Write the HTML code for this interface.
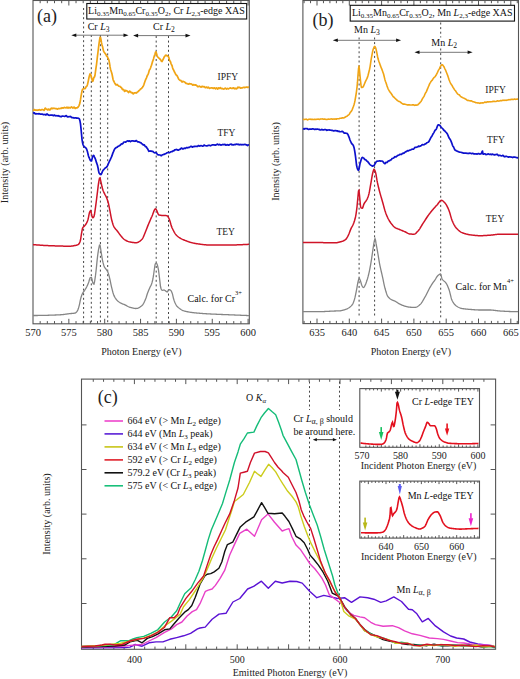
<!DOCTYPE html>
<html><head><meta charset="utf-8"><style>
html,body{margin:0;padding:0;background:#fff;overflow:hidden;}
svg{display:block;font-family:"Liberation Serif",serif;}
</style></head><body>
<svg width="520" height="679" viewBox="0 0 520 679">
<rect width="520" height="679" fill="#fff"/>
<rect x="33" y="0.5" width="216.3" height="323.3" fill="none" stroke="#555" stroke-width="1.1"/>
<path d="M68.85,0.5 V5.5 M68.85,323.8 V318.8 M104.70,0.5 V5.5 M104.70,323.8 V318.8 M140.55,0.5 V5.5 M140.55,323.8 V318.8 M176.40,0.5 V5.5 M176.40,323.8 V318.8 M212.25,0.5 V5.5 M212.25,323.8 V318.8 M248.10,0.5 V5.5 M248.10,323.8 V318.8 M40.17,0.5 V3.2 M40.17,323.8 V321.1 M47.34,0.5 V3.2 M47.34,323.8 V321.1 M54.51,0.5 V3.2 M54.51,323.8 V321.1 M61.68,0.5 V3.2 M61.68,323.8 V321.1 M76.02,0.5 V3.2 M76.02,323.8 V321.1 M83.19,0.5 V3.2 M83.19,323.8 V321.1 M90.36,0.5 V3.2 M90.36,323.8 V321.1 M97.53,0.5 V3.2 M97.53,323.8 V321.1 M111.87,0.5 V3.2 M111.87,323.8 V321.1 M119.04,0.5 V3.2 M119.04,323.8 V321.1 M126.21,0.5 V3.2 M126.21,323.8 V321.1 M133.38,0.5 V3.2 M133.38,323.8 V321.1 M147.72,0.5 V3.2 M147.72,323.8 V321.1 M154.89,0.5 V3.2 M154.89,323.8 V321.1 M162.06,0.5 V3.2 M162.06,323.8 V321.1 M169.23,0.5 V3.2 M169.23,323.8 V321.1 M183.57,0.5 V3.2 M183.57,323.8 V321.1 M190.74,0.5 V3.2 M190.74,323.8 V321.1 M197.91,0.5 V3.2 M197.91,323.8 V321.1 M205.08,0.5 V3.2 M205.08,323.8 V321.1 M219.42,0.5 V3.2 M219.42,323.8 V321.1 M226.59,0.5 V3.2 M226.59,323.8 V321.1 M233.76,0.5 V3.2 M233.76,323.8 V321.1 M240.93,0.5 V3.2 M240.93,323.8 V321.1" stroke="#555" stroke-width="1" fill="none"/>
<text x="33.0" y="336.2" font-size="10.5" text-anchor="middle" fill="#222" >570</text>
<text x="68.8" y="336.2" font-size="10.5" text-anchor="middle" fill="#222" >575</text>
<text x="104.7" y="336.2" font-size="10.5" text-anchor="middle" fill="#222" >580</text>
<text x="140.6" y="336.2" font-size="10.5" text-anchor="middle" fill="#222" >585</text>
<text x="176.4" y="336.2" font-size="10.5" text-anchor="middle" fill="#222" >590</text>
<text x="212.2" y="336.2" font-size="10.5" text-anchor="middle" fill="#222" >595</text>
<text x="248.1" y="336.2" font-size="10.5" text-anchor="middle" fill="#222" >600</text>
<text x="141.4" y="355.3" font-size="10" text-anchor="middle" fill="#222" >Photon Energy (eV)</text>
<text transform="translate(8.3,162.5) rotate(-90)" font-size="10" text-anchor="middle" fill="#222">Intensity (arb. units)</text>
<text x="37" y="21.9" font-size="18" fill="#222" >(a)</text>
<line x1="83.6" y1="8" x2="83.6" y2="323" stroke="#444" stroke-width="1" stroke-dasharray="2 2.6"/>
<line x1="91.3" y1="35" x2="91.3" y2="323" stroke="#444" stroke-width="1" stroke-dasharray="2 2.6"/>
<line x1="100.4" y1="35" x2="100.4" y2="323" stroke="#444" stroke-width="1" stroke-dasharray="2 2.6"/>
<line x1="107.7" y1="35" x2="107.7" y2="323" stroke="#444" stroke-width="1" stroke-dasharray="2 2.6"/>
<line x1="156.2" y1="36" x2="156.2" y2="323" stroke="#444" stroke-width="1" stroke-dasharray="2 2.6"/>
<line x1="168.5" y1="36" x2="168.5" y2="323" stroke="#444" stroke-width="1" stroke-dasharray="2 2.6"/>
<rect x="86.8" y="3.5" width="159.9" height="15.5" fill="#fff" stroke="#111" stroke-width="1.1"/>
<text x="88.1" y="13.9" font-size="10" fill="#111">Li<tspan font-size="7" dy="2">0.35</tspan><tspan dy="-2">Mn</tspan><tspan font-size="7" dy="2">0.65</tspan><tspan dy="-2">Cr</tspan><tspan font-size="7" dy="2">0.35</tspan><tspan dy="-2">O</tspan><tspan font-size="7" dy="2">2</tspan><tspan dy="-2">, Cr </tspan><tspan font-style="italic">L</tspan><tspan font-size="7" dy="2">2,3</tspan><tspan dy="-2">-edge XAS</tspan></text>
<text x="87.7" y="29.5" font-size="10" fill="#111">Cr <tspan font-style="italic">L</tspan><tspan font-size="7.6" dy="2.2">3</tspan></text>
<text x="153" y="29.5" font-size="10" fill="#111">Cr <tspan font-style="italic">L</tspan><tspan font-size="7.6" dy="2.2">2</tspan></text>
<line x1="75.3" y1="35.2" x2="124.5" y2="35.2" stroke="#777" stroke-width="1"/><path d="M71.3,35.2 L76.3,33.400000000000006 L76.3,37.0 Z" fill="#111"/><path d="M128.5,35.2 L123.5,33.400000000000006 L123.5,37.0 Z" fill="#111"/>
<line x1="137.1" y1="35.6" x2="186.5" y2="35.6" stroke="#777" stroke-width="1"/><path d="M133.1,35.6 L138.1,33.800000000000004 L138.1,37.4 Z" fill="#111"/><path d="M190.5,35.6 L185.5,33.800000000000004 L185.5,37.4 Z" fill="#111"/>
<path d="M33.00,110.02 L33.50,110.24 L34.00,109.83 L34.50,109.54 L35.00,110.07 L35.50,110.16 L36.00,109.91 L36.50,110.15 L37.00,110.30 L37.50,110.18 L38.00,110.17 L38.50,110.07 L39.00,109.76 L39.50,109.67 L40.00,109.89 L40.50,110.15 L41.00,110.06 L41.50,109.67 L42.00,109.47 L42.50,109.60 L43.00,109.72 L43.50,109.93 L44.00,110.42 L44.50,109.78 L45.00,108.24 L45.50,108.10 L46.00,108.88 L46.50,109.21 L47.00,109.36 L47.50,109.84 L48.00,109.90 L48.50,109.03 L49.00,109.12 L49.50,109.96 L50.00,109.85 L50.50,109.28 L51.00,108.51 L51.50,108.14 L52.00,108.63 L52.50,108.68 L53.00,108.19 L53.50,108.25 L54.00,108.42 L54.50,108.33 L55.00,108.53 L55.50,108.76 L56.00,108.64 L56.50,108.60 L57.00,109.00 L57.50,109.21 L58.00,108.77 L58.50,108.47 L59.00,108.59 L59.50,108.66 L60.00,108.54 L60.50,108.39 L61.00,108.57 L61.50,108.29 L62.00,107.71 L62.50,107.86 L63.00,108.20 L63.50,108.04 L64.00,107.46 L64.50,107.35 L65.00,107.67 L65.50,107.75 L66.00,107.95 L66.50,107.75 L67.00,107.19 L67.50,107.64 L68.00,108.09 L68.50,107.51 L69.00,107.27 L69.50,107.71 L70.00,107.96 L70.50,107.88 L71.00,107.28 L71.50,106.89 L72.00,107.24 L72.50,107.73 L73.00,108.14 L73.50,107.84 L74.00,107.10 L74.50,107.40 L75.00,108.36 L75.50,108.43 L76.00,107.87 L76.50,107.77 L77.00,107.83 L77.50,107.67 L78.00,107.30 L78.50,106.58 L79.00,105.55 L79.50,104.44 L80.00,102.58 L80.50,99.70 L81.00,96.29 L81.50,93.56 L82.00,90.94 L82.50,89.49 L83.00,89.02 L83.50,88.76 L84.00,88.52 L84.50,88.58 L85.00,88.69 L85.50,88.03 L86.00,86.91 L86.50,86.38 L87.00,86.11 L87.50,84.45 L88.00,82.35 L88.50,79.94 L89.00,77.40 L89.50,75.53 L90.00,73.95 L90.50,74.11 L91.00,75.58 L91.50,77.36 L92.00,79.63 L92.50,81.39 L93.00,81.07 L93.50,78.82 L94.00,77.24 L94.50,76.93 L95.00,75.24 L95.50,71.30 L96.00,67.83 L96.50,64.57 L97.00,60.25 L97.50,55.82 L98.00,52.00 L98.50,47.87 L99.00,43.87 L99.50,40.38 L100.00,37.43 L100.50,37.33 L101.00,39.66 L101.50,42.69 L102.00,44.93 L102.50,46.54 L103.00,48.59 L103.50,50.85 L104.00,51.89 L104.50,52.58 L105.00,53.39 L105.50,53.90 L106.00,54.73 L106.50,55.79 L107.00,56.31 L107.50,56.91 L108.00,58.13 L108.50,59.08 L109.00,60.57 L109.50,63.17 L110.00,66.49 L110.50,69.19 L111.00,70.79 L111.50,72.28 L112.00,73.99 L112.50,76.53 L113.00,79.24 L113.50,80.73 L114.00,81.55 L114.50,82.62 L115.00,83.54 L115.50,84.35 L116.00,84.92 L116.50,84.66 L117.00,84.45 L117.50,84.89 L118.00,85.43 L118.50,85.85 L119.00,86.23 L119.50,86.25 L120.00,86.40 L120.50,87.15 L121.00,87.34 L121.50,87.56 L122.00,88.72 L122.50,89.58 L123.00,89.66 L123.50,89.45 L124.00,90.07 L124.50,91.39 L125.00,91.26 L125.50,90.38 L126.00,90.57 L126.50,90.90 L127.00,90.92 L127.50,91.31 L128.00,91.89 L128.50,92.52 L129.00,92.08 L129.50,91.13 L130.00,91.26 L130.50,91.80 L131.00,92.50 L131.50,92.87 L132.00,92.60 L132.50,92.73 L133.00,93.77 L133.50,93.91 L134.00,93.03 L134.50,92.84 L135.00,92.88 L135.50,92.68 L136.00,92.86 L136.50,93.12 L137.00,92.44 L137.50,91.94 L138.00,91.78 L138.50,91.14 L139.00,90.60 L139.50,90.25 L140.00,89.74 L140.50,89.11 L141.00,88.76 L141.50,88.45 L142.00,87.93 L142.50,87.30 L143.00,86.56 L143.50,85.63 L144.00,84.25 L144.50,82.75 L145.00,81.34 L145.50,79.93 L146.00,78.83 L146.50,77.85 L147.00,76.36 L147.50,75.15 L148.00,74.45 L148.50,73.26 L149.00,71.34 L149.50,69.76 L150.00,69.18 L150.50,68.00 L151.00,66.41 L151.50,65.28 L152.00,63.53 L152.50,61.68 L153.00,60.38 L153.50,58.91 L154.00,56.98 L154.50,55.45 L155.00,54.29 L155.50,52.28 L156.00,51.87 L156.50,53.51 L157.00,55.24 L157.50,56.53 L158.00,57.20 L158.50,57.77 L159.00,58.19 L159.50,58.57 L160.00,59.23 L160.50,59.69 L161.00,60.31 L161.50,61.32 L162.00,61.60 L162.50,60.69 L163.00,59.67 L163.50,58.69 L164.00,57.37 L164.50,56.57 L165.00,56.04 L165.50,55.27 L166.00,55.15 L166.50,55.62 L167.00,55.85 L167.50,55.71 L168.00,56.13 L168.50,56.83 L169.00,58.10 L169.50,60.26 L170.00,61.01 L170.50,61.75 L171.00,63.58 L171.50,64.55 L172.00,65.50 L172.50,67.47 L173.00,69.05 L173.50,69.80 L174.00,70.92 L174.50,72.05 L175.00,72.88 L175.50,74.01 L176.00,74.85 L176.50,75.07 L177.00,75.56 L177.50,76.49 L178.00,77.56 L178.50,78.71 L179.00,79.49 L179.50,79.97 L180.00,80.28 L180.50,80.32 L181.00,80.53 L181.50,81.46 L182.00,82.06 L182.50,81.59 L183.00,81.34 L183.50,81.61 L184.00,81.72 L184.50,81.94 L185.00,82.35 L185.50,82.90 L186.00,83.43 L186.50,83.44 L187.00,83.58 L187.50,83.82 L188.00,83.96 L188.50,84.16 L189.00,83.78 L189.50,83.51 L190.00,83.87 L190.50,83.95 L191.00,83.89 L191.50,83.99 L192.00,84.37 L192.50,85.14 L193.00,85.17 L193.50,84.68 L194.00,84.68 L194.50,84.99 L195.00,85.10 L195.50,84.92 L196.00,85.05 L196.50,85.42 L197.00,85.85 L197.50,86.54 L198.00,86.80 L198.50,86.56 L199.00,86.22 L199.50,86.07 L200.00,86.47 L200.50,86.81 L201.00,87.21 L201.50,87.06 L202.00,86.27 L202.50,86.32 L203.00,86.72 L203.50,86.83 L204.00,86.62 L204.50,86.79 L205.00,87.41 L205.50,87.69 L206.00,87.43 L206.50,87.05 L207.00,87.33 L207.50,87.86 L208.00,87.48 L208.50,87.15 L209.00,87.82 L209.50,88.31 L210.00,88.19 L210.50,88.05 L211.00,87.91 L211.50,87.73 L212.00,87.83 L212.50,88.00 L213.00,88.37 L213.50,88.41 L214.00,87.91 L214.50,87.88 L215.00,88.33 L215.50,88.76 L216.00,88.42 L216.50,87.88 L217.00,88.26 L217.50,89.06 L218.00,88.92 L218.50,87.86 L219.00,87.96 L219.50,88.44 L220.00,87.75 L220.50,87.63 L221.00,88.51 L221.50,88.75 L222.00,88.41 L222.50,88.49 L223.00,88.88 L223.50,89.08 L224.00,88.96 L224.50,88.66 L225.00,88.23 L225.50,88.16 L226.00,88.63 L226.50,89.06 L227.00,88.81 L227.50,88.43 L228.00,88.78 L228.50,88.94 L229.00,88.56 L229.50,88.33 L230.00,88.00 L230.50,87.78 L231.00,88.26 L231.50,88.44 L232.00,88.31 L232.50,88.30 L233.00,87.90 L233.50,87.79 L234.00,88.50 L234.50,88.77 L235.00,88.20 L235.50,88.40 L236.00,88.87 L236.50,88.84 L237.00,88.56 L237.50,87.48 L238.00,87.08 L238.50,87.64 L239.00,87.58 L239.50,87.30 L240.00,87.54 L240.50,88.21 L241.00,88.21 L241.50,87.78 L242.00,87.90 L242.50,87.80 L243.00,87.49 L243.50,87.40 L244.00,87.43 L244.50,87.59 L245.00,87.42 L245.50,87.29 L246.00,87.30 L246.50,87.02 L247.00,87.01 L247.50,87.40 L248.00,87.37 L248.50,87.15 L249.00,87.23" stroke="#f0a414" stroke-width="1.7" fill="none" stroke-linejoin="round"/>
<path d="M33.00,113.18 L33.50,113.10 L34.00,112.85 L34.50,112.94 L35.00,113.73 L35.50,113.97 L36.00,113.71 L36.50,113.80 L37.00,113.77 L37.50,113.74 L38.00,113.92 L38.50,113.84 L39.00,113.67 L39.50,113.76 L40.00,114.00 L40.50,114.15 L41.00,114.15 L41.50,114.09 L42.00,114.05 L42.50,114.16 L43.00,114.43 L43.50,114.55 L44.00,114.57 L44.50,114.48 L45.00,114.41 L45.50,114.88 L46.00,115.01 L46.50,114.29 L47.00,113.88 L47.50,114.27 L48.00,114.84 L48.50,115.12 L49.00,115.28 L49.50,115.29 L50.00,115.18 L50.50,115.13 L51.00,115.20 L51.50,115.21 L52.00,114.98 L52.50,115.04 L53.00,115.54 L53.50,115.74 L54.00,115.31 L54.50,115.03 L55.00,115.36 L55.50,115.71 L56.00,115.84 L56.50,115.73 L57.00,115.55 L57.50,115.94 L58.00,116.04 L58.50,115.66 L59.00,115.92 L59.50,116.29 L60.00,116.30 L60.50,116.60 L61.00,116.84 L61.50,116.45 L62.00,116.02 L62.50,116.04 L63.00,116.26 L63.50,116.26 L64.00,116.20 L64.50,116.35 L65.00,116.37 L65.50,116.01 L66.00,115.60 L66.50,115.81 L67.00,116.50 L67.50,116.89 L68.00,116.97 L68.50,116.72 L69.00,116.56 L69.50,116.76 L70.00,116.68 L70.50,116.45 L71.00,116.85 L71.50,117.53 L72.00,117.68 L72.50,117.60 L73.00,117.55 L73.50,117.71 L74.00,118.06 L74.50,118.02 L75.00,117.87 L75.50,117.86 L76.00,117.86 L76.50,118.13 L77.00,118.23 L77.50,118.12 L78.00,118.17 L78.50,118.23 L79.00,118.58 L79.50,119.28 L80.00,121.02 L80.50,123.93 L81.00,128.55 L81.50,133.84 L82.00,139.36 L82.50,142.49 L83.00,144.43 L83.50,145.79 L84.00,146.52 L84.50,146.88 L85.00,147.28 L85.50,147.74 L86.00,148.00 L86.50,148.90 L87.00,150.28 L87.50,151.82 L88.00,153.95 L88.50,156.06 L89.00,157.42 L89.50,158.45 L90.00,159.73 L90.50,160.49 L91.00,160.91 L91.50,160.96 L92.00,159.12 L92.50,157.01 L93.00,155.75 L93.50,155.28 L94.00,155.86 L94.50,157.08 L95.00,158.21 L95.50,159.32 L96.00,160.98 L96.50,162.63 L97.00,163.96 L97.50,165.53 L98.00,167.71 L98.50,170.56 L99.00,172.82 L99.50,173.64 L100.00,174.05 L100.50,174.51 L101.00,174.58 L101.50,173.80 L102.00,172.58 L102.50,171.28 L103.00,170.30 L103.50,169.78 L104.00,169.31 L104.50,168.71 L105.00,168.17 L105.50,167.86 L106.00,167.61 L106.50,167.28 L107.00,166.64 L107.50,165.63 L108.00,164.46 L108.50,163.40 L109.00,162.25 L109.50,161.13 L110.00,160.16 L110.50,159.05 L111.00,157.99 L111.50,156.93 L112.00,155.65 L112.50,154.13 L113.00,152.68 L113.50,151.56 L114.00,150.37 L114.50,149.24 L115.00,148.67 L115.50,148.10 L116.00,147.69 L116.50,147.61 L117.00,147.36 L117.50,146.81 L118.00,146.35 L118.50,146.23 L119.00,145.93 L119.50,145.54 L120.00,145.47 L120.50,144.94 L121.00,144.18 L121.50,143.89 L122.00,143.77 L122.50,143.80 L123.00,143.39 L123.50,142.51 L124.00,142.08 L124.50,141.99 L125.00,141.99 L125.50,142.12 L126.00,141.88 L126.50,141.52 L127.00,141.17 L127.50,140.83 L128.00,141.09 L128.50,141.35 L129.00,141.07 L129.50,140.95 L130.00,141.36 L130.50,141.63 L131.00,141.19 L131.50,140.95 L132.00,141.00 L132.50,140.78 L133.00,140.82 L133.50,141.03 L134.00,141.05 L134.50,141.08 L135.00,141.31 L135.50,141.13 L136.00,140.55 L136.50,140.53 L137.00,141.21 L137.50,141.79 L138.00,141.80 L138.50,141.74 L139.00,141.95 L139.50,142.32 L140.00,142.58 L140.50,142.61 L141.00,142.84 L141.50,143.54 L142.00,143.83 L142.50,143.97 L143.00,144.72 L143.50,145.05 L144.00,144.82 L144.50,145.09 L145.00,146.00 L145.50,146.63 L146.00,146.71 L146.50,147.20 L147.00,148.15 L147.50,148.68 L148.00,149.47 L148.50,150.75 L149.00,151.31 L149.50,151.14 L150.00,151.09 L150.50,151.05 L151.00,150.96 L151.50,151.26 L152.00,151.43 L152.50,151.29 L153.00,151.55 L153.50,152.13 L154.00,152.45 L154.50,152.66 L155.00,152.82 L155.50,152.68 L156.00,152.61 L156.50,152.95 L157.00,153.74 L157.50,154.44 L158.00,154.79 L158.50,154.94 L159.00,154.91 L159.50,154.98 L160.00,154.99 L160.50,155.21 L161.00,155.75 L161.50,155.61 L162.00,154.98 L162.50,154.74 L163.00,154.61 L163.50,154.44 L164.00,154.37 L164.50,154.14 L165.00,153.92 L165.50,153.77 L166.00,153.51 L166.50,153.11 L167.00,152.77 L167.50,152.67 L168.00,152.60 L168.50,152.52 L169.00,152.59 L169.50,152.69 L170.00,152.36 L170.50,151.95 L171.00,151.72 L171.50,151.59 L172.00,151.68 L172.50,151.33 L173.00,150.86 L173.50,151.01 L174.00,150.72 L174.50,149.95 L175.00,149.90 L175.50,149.90 L176.00,149.55 L176.50,149.46 L177.00,149.65 L177.50,149.88 L178.00,150.17 L178.50,150.21 L179.00,149.81 L179.50,149.55 L180.00,149.37 L180.50,148.97 L181.00,148.42 L181.50,148.07 L182.00,148.32 L182.50,148.83 L183.00,148.99 L183.50,148.72 L184.00,148.30 L184.50,148.14 L185.00,148.45 L185.50,148.37 L186.00,147.85 L186.50,147.52 L187.00,147.57 L187.50,147.85 L188.00,147.74 L188.50,147.47 L189.00,147.45 L189.50,147.34 L190.00,146.95 L190.50,146.56 L191.00,146.32 L191.50,146.40 L192.00,147.05 L192.50,147.20 L193.00,146.61 L193.50,146.55 L194.00,146.61 L194.50,146.39 L195.00,146.29 L195.50,146.35 L196.00,146.48 L196.50,146.35 L197.00,146.32 L197.50,146.36 L198.00,145.93 L198.50,145.55 L199.00,145.81 L199.50,146.13 L200.00,146.07 L200.50,145.83 L201.00,145.64 L201.50,145.81 L202.00,145.98 L202.50,146.06 L203.00,146.14 L203.50,145.69 L204.00,145.11 L204.50,145.16 L205.00,145.59 L205.50,145.73 L206.00,145.74 L206.50,145.85 L207.00,145.99 L207.50,145.81 L208.00,145.40 L208.50,145.43 L209.00,145.40 L209.50,145.23 L210.00,145.56 L210.50,145.78 L211.00,145.53 L211.50,145.24 L212.00,145.02 L212.50,144.85 L213.00,144.87 L213.50,144.91 L214.00,144.91 L214.50,144.92 L215.00,145.13 L215.50,145.12 L216.00,144.87 L216.50,144.73 L217.00,144.24 L217.50,144.07 L218.00,144.56 L218.50,144.88 L219.00,144.73 L219.50,144.44 L220.00,144.58 L220.50,144.95 L221.00,145.07 L221.50,144.94 L222.00,144.72 L222.50,144.51 L223.00,144.47 L223.50,144.64 L224.00,144.67 L224.50,144.40 L225.00,144.39 L225.50,144.91 L226.00,145.20 L226.50,144.98 L227.00,144.70 L227.50,144.70 L228.00,144.90 L228.50,145.09 L229.00,145.14 L229.50,144.78 L230.00,144.33 L230.50,144.22 L231.00,144.13 L231.50,144.32 L232.00,144.86 L232.50,144.81 L233.00,144.62 L233.50,144.93 L234.00,144.78 L234.50,144.46 L235.00,144.59 L235.50,144.56 L236.00,144.19 L236.50,144.06 L237.00,144.45 L237.50,144.41 L238.00,144.12 L238.50,144.57 L239.00,144.85 L239.50,144.66 L240.00,144.64 L240.50,144.55 L241.00,144.43 L241.50,144.71 L242.00,144.86 L242.50,144.60 L243.00,144.68 L243.50,144.78 L244.00,144.60 L244.50,144.45 L245.00,144.33 L245.50,144.47 L246.00,144.81 L246.50,144.87 L247.00,145.11 L247.50,145.51 L248.00,145.21 L248.50,144.91 L249.00,144.96" stroke="#0c10cc" stroke-width="1.7" fill="none" stroke-linejoin="round"/>
<path d="M33.00,244.60 L33.50,244.64 L34.00,244.68 L34.50,244.72 L35.00,244.76 L35.50,244.80 L36.00,244.84 L36.50,244.88 L37.00,244.92 L37.50,244.96 L38.00,245.00 L38.50,245.04 L39.00,245.07 L39.50,245.11 L40.00,245.14 L40.50,245.18 L41.00,245.21 L41.50,245.25 L42.00,245.28 L42.50,245.31 L43.00,245.35 L43.50,245.38 L44.00,245.41 L44.50,245.44 L45.00,245.47 L45.50,245.49 L46.00,245.52 L46.50,245.55 L47.00,245.57 L47.50,245.60 L48.00,245.62 L48.50,245.64 L49.00,245.66 L49.50,245.68 L50.00,245.70 L50.50,245.72 L51.00,245.74 L51.50,245.75 L52.00,245.77 L52.50,245.79 L53.00,245.81 L53.50,245.83 L54.00,245.85 L54.50,245.86 L55.00,245.88 L55.50,245.90 L56.00,245.92 L56.50,245.93 L57.00,245.95 L57.50,245.97 L58.00,245.98 L58.50,246.00 L59.00,246.01 L59.50,246.03 L60.00,246.04 L60.50,246.06 L61.00,246.07 L61.50,246.08 L62.00,246.09 L62.50,246.11 L63.00,246.12 L63.50,246.13 L64.00,246.14 L64.50,246.15 L65.00,246.16 L65.50,246.16 L66.00,246.17 L66.50,246.18 L67.00,246.18 L67.50,246.19 L68.00,246.19 L68.50,246.20 L69.00,246.20 L69.50,246.20 L70.00,246.20 L70.50,246.19 L71.00,246.16 L71.50,246.11 L72.00,246.05 L72.50,245.98 L73.00,245.89 L73.50,245.80 L74.00,245.70 L74.50,245.60 L75.00,245.50 L75.50,245.40 L76.00,245.29 L76.50,245.16 L77.00,245.01 L77.50,244.82 L78.00,244.59 L78.50,244.30 L79.00,243.78 L79.50,242.88 L80.00,241.66 L80.50,240.00 L81.00,236.92 L81.50,233.70 L82.00,230.79 L82.50,228.34 L83.00,227.33 L83.50,226.80 L84.00,226.39 L84.50,225.88 L85.00,225.32 L85.50,224.71 L86.00,224.02 L86.50,223.17 L87.00,222.15 L87.50,220.93 L88.00,219.50 L88.50,217.35 L89.00,214.65 L89.50,212.43 L90.00,211.33 L90.50,210.72 L91.00,211.62 L91.50,214.00 L92.00,215.94 L92.50,217.59 L93.00,217.70 L93.50,217.20 L94.00,216.39 L94.50,214.25 L95.00,210.92 L95.50,207.29 L96.00,203.72 L96.50,199.75 L97.00,195.63 L97.50,191.60 L98.00,187.37 L98.50,183.60 L99.00,180.62 L99.50,178.21 L100.00,177.94 L100.50,179.93 L101.00,182.21 L101.50,184.46 L102.00,186.79 L102.50,188.84 L103.00,190.34 L103.50,191.53 L104.00,192.58 L104.50,193.60 L105.00,194.58 L105.50,195.49 L106.00,196.45 L106.50,197.56 L107.00,198.80 L107.50,200.20 L108.00,201.80 L108.50,203.77 L109.00,206.11 L109.50,208.61 L110.00,211.12 L110.50,213.89 L111.00,216.67 L111.50,219.09 L112.00,221.03 L112.50,222.81 L113.00,224.40 L113.50,225.74 L114.00,226.79 L114.50,227.63 L115.00,228.34 L115.50,228.97 L116.00,229.55 L116.50,230.10 L117.00,230.68 L117.50,231.30 L118.00,231.98 L118.50,232.67 L119.00,233.37 L119.50,234.07 L120.00,234.74 L120.50,235.39 L121.00,236.00 L121.50,236.59 L122.00,237.18 L122.50,237.76 L123.00,238.30 L123.50,238.80 L124.00,239.24 L124.50,239.60 L125.00,239.91 L125.50,240.20 L126.00,240.48 L126.50,240.75 L127.00,240.99 L127.50,241.22 L128.00,241.42 L128.50,241.60 L129.00,241.76 L129.50,241.89 L130.00,242.00 L130.50,242.09 L131.00,242.18 L131.50,242.27 L132.00,242.35 L132.50,242.42 L133.00,242.49 L133.50,242.55 L134.00,242.60 L134.50,242.64 L135.00,242.67 L135.50,242.69 L136.00,242.70 L136.50,242.67 L137.00,242.58 L137.50,242.44 L138.00,242.24 L138.50,242.00 L139.00,241.72 L139.50,241.39 L140.00,241.03 L140.50,240.64 L141.00,240.21 L141.50,239.77 L142.00,239.30 L142.50,238.66 L143.00,237.75 L143.50,236.65 L144.00,235.44 L144.50,234.20 L145.00,233.00 L145.50,231.81 L146.00,230.55 L146.50,229.25 L147.00,227.93 L147.50,226.64 L148.00,225.40 L148.50,224.20 L149.00,223.02 L149.50,221.85 L150.00,220.69 L150.50,219.55 L151.00,218.42 L151.50,217.31 L152.00,216.20 L152.50,214.98 L153.00,213.61 L153.50,212.21 L154.00,210.90 L154.50,209.82 L155.00,209.08 L155.50,208.80 L156.00,209.13 L156.50,209.98 L157.00,211.15 L157.50,212.44 L158.00,213.65 L158.50,214.57 L159.00,215.00 L159.50,215.11 L160.00,215.20 L160.50,215.27 L161.00,215.33 L161.50,215.38 L162.00,215.43 L162.50,215.46 L163.00,215.50 L163.50,215.53 L164.00,215.55 L164.50,215.57 L165.00,215.58 L165.50,215.60 L166.00,215.62 L166.50,215.65 L167.00,215.70 L167.50,215.99 L168.00,216.66 L168.50,217.55 L169.00,218.50 L169.50,219.68 L170.00,221.24 L170.50,222.99 L171.00,224.76 L171.50,226.39 L172.00,227.70 L172.50,228.77 L173.00,229.79 L173.50,230.77 L174.00,231.70 L174.50,232.56 L175.00,233.36 L175.50,234.09 L176.00,234.74 L176.50,235.31 L177.00,235.80 L177.50,236.23 L178.00,236.63 L178.50,237.01 L179.00,237.36 L179.50,237.69 L180.00,238.01 L180.50,238.30 L181.00,238.58 L181.50,238.85 L182.00,239.10 L182.50,239.33 L183.00,239.56 L183.50,239.78 L184.00,239.99 L184.50,240.20 L185.00,240.40 L185.50,240.60 L186.00,240.79 L186.50,240.98 L187.00,241.17 L187.50,241.35 L188.00,241.53 L188.50,241.71 L189.00,241.87 L189.50,242.04 L190.00,242.20 L190.50,242.35 L191.00,242.49 L191.50,242.63 L192.00,242.76 L192.50,242.89 L193.00,243.01 L193.50,243.12 L194.00,243.22 L194.50,243.31 L195.00,243.40 L195.50,243.48 L196.00,243.56 L196.50,243.64 L197.00,243.72 L197.50,243.80 L198.00,243.88 L198.50,243.96 L199.00,244.03 L199.50,244.10 L200.00,244.18 L200.50,244.25 L201.00,244.31 L201.50,244.38 L202.00,244.44 L202.50,244.50 L203.00,244.56 L203.50,244.62 L204.00,244.67 L204.50,244.72 L205.00,244.77 L205.50,244.81 L206.00,244.85 L206.50,244.88 L207.00,244.91 L207.50,244.94 L208.00,244.96 L208.50,244.98 L209.00,244.99 L209.50,245.00 L210.00,245.00 L210.50,245.00 L211.00,245.00 L211.50,245.00 L212.00,245.00 L212.50,245.00 L213.00,245.00 L213.50,245.00 L214.00,245.00 L214.50,245.00 L215.00,245.00 L215.50,245.00 L216.00,245.00 L216.50,245.00 L217.00,245.00 L217.50,245.00 L218.00,245.00 L218.50,245.00 L219.00,245.00 L219.50,245.00 L220.00,245.00 L220.50,245.00 L221.00,245.00 L221.50,245.00 L222.00,245.00 L222.50,245.00 L223.00,245.00 L223.50,245.00 L224.00,245.00 L224.50,245.00 L225.00,245.00 L225.50,245.00 L226.00,245.00 L226.50,245.00 L227.00,245.00 L227.50,245.00 L228.00,245.00 L228.50,245.00 L229.00,245.00 L229.50,245.00 L230.00,245.00 L230.50,245.00 L231.00,245.00 L231.50,244.99 L232.00,244.99 L232.50,244.98 L233.00,244.98 L233.50,244.97 L234.00,244.96 L234.50,244.95 L235.00,244.93 L235.50,244.92 L236.00,244.91 L236.50,244.89 L237.00,244.87 L237.50,244.86 L238.00,244.84 L238.50,244.82 L239.00,244.80 L239.50,244.78 L240.00,244.76 L240.50,244.74 L241.00,244.71 L241.50,244.69 L242.00,244.67 L242.50,244.64 L243.00,244.62 L243.50,244.59 L244.00,244.57 L244.50,244.54 L245.00,244.52 L245.50,244.49 L246.00,244.46 L246.50,244.44 L247.00,244.41 L247.50,244.38 L248.00,244.35 L248.50,244.33 L249.00,244.30" stroke="#cf1428" stroke-width="1.5" fill="none"/>
<path d="M33.00,315.50 L33.50,315.50 L34.00,315.50 L34.50,315.50 L35.00,315.50 L35.50,315.49 L36.00,315.49 L36.50,315.49 L37.00,315.48 L37.50,315.48 L38.00,315.47 L38.50,315.47 L39.00,315.46 L39.50,315.45 L40.00,315.45 L40.50,315.44 L41.00,315.43 L41.50,315.42 L42.00,315.41 L42.50,315.40 L43.00,315.39 L43.50,315.38 L44.00,315.37 L44.50,315.36 L45.00,315.35 L45.50,315.34 L46.00,315.32 L46.50,315.31 L47.00,315.30 L47.50,315.28 L48.00,315.27 L48.50,315.25 L49.00,315.24 L49.50,315.22 L50.00,315.20 L50.50,315.19 L51.00,315.17 L51.50,315.15 L52.00,315.14 L52.50,315.12 L53.00,315.10 L53.50,315.08 L54.00,315.06 L54.50,315.04 L55.00,315.02 L55.50,315.00 L56.00,314.98 L56.50,314.96 L57.00,314.94 L57.50,314.91 L58.00,314.89 L58.50,314.87 L59.00,314.85 L59.50,314.82 L60.00,314.80 L60.50,314.77 L61.00,314.74 L61.50,314.70 L62.00,314.65 L62.50,314.60 L63.00,314.54 L63.50,314.48 L64.00,314.41 L64.50,314.35 L65.00,314.28 L65.50,314.20 L66.00,314.13 L66.50,314.06 L67.00,313.99 L67.50,313.92 L68.00,313.85 L68.50,313.78 L69.00,313.72 L69.50,313.66 L70.00,313.60 L70.50,313.55 L71.00,313.51 L71.50,313.48 L72.00,313.44 L72.50,313.41 L73.00,313.37 L73.50,313.32 L74.00,313.26 L74.50,313.19 L75.00,313.10 L75.50,312.90 L76.00,312.52 L76.50,312.00 L77.00,311.37 L77.50,310.64 L78.00,309.54 L78.50,308.04 L79.00,306.35 L79.50,304.35 L80.00,301.86 L80.50,299.40 L81.00,297.47 L81.50,295.94 L82.00,294.61 L82.50,293.48 L83.00,292.60 L83.50,291.90 L84.00,291.26 L84.50,290.55 L85.00,289.76 L85.50,288.95 L86.00,288.09 L86.50,287.18 L87.00,286.20 L87.50,285.13 L88.00,283.97 L88.50,282.75 L89.00,281.24 L89.50,279.39 L90.00,277.99 L90.50,277.70 L91.00,277.70 L91.50,277.70 L92.00,279.25 L92.50,281.85 L93.00,283.12 L93.50,283.95 L94.00,284.13 L94.50,282.07 L95.00,278.90 L95.50,275.41 L96.00,271.24 L96.50,266.64 L97.00,261.43 L97.50,256.89 L98.00,253.08 L98.50,249.92 L99.00,247.29 L99.50,245.15 L100.00,245.05 L100.50,247.92 L101.00,251.17 L101.50,254.28 L102.00,257.47 L102.50,260.28 L103.00,262.44 L103.50,264.33 L104.00,265.92 L104.50,267.10 L105.00,267.90 L105.50,268.50 L106.00,269.09 L106.50,269.80 L107.00,270.54 L107.50,271.38 L108.00,272.40 L108.50,273.82 L109.00,275.65 L109.50,277.67 L110.00,279.74 L110.50,282.08 L111.00,284.51 L111.50,286.79 L112.00,288.83 L112.50,290.86 L113.00,292.74 L113.50,294.37 L114.00,295.62 L114.50,296.64 L115.00,297.53 L115.50,298.33 L116.00,299.03 L116.50,299.65 L117.00,300.21 L117.50,300.71 L118.00,301.17 L118.50,301.59 L119.00,301.97 L119.50,302.31 L120.00,302.62 L120.50,302.90 L121.00,303.16 L121.50,303.39 L122.00,303.62 L122.50,303.83 L123.00,304.04 L123.50,304.25 L124.00,304.46 L124.50,304.67 L125.00,304.90 L125.50,305.14 L126.00,305.41 L126.50,305.67 L127.00,305.95 L127.50,306.22 L128.00,306.48 L128.50,306.72 L129.00,306.94 L129.50,307.14 L130.00,307.30 L130.50,307.44 L131.00,307.59 L131.50,307.73 L132.00,307.87 L132.50,307.99 L133.00,308.11 L133.50,308.22 L134.00,308.32 L134.50,308.39 L135.00,308.45 L135.50,308.49 L136.00,308.50 L136.50,308.47 L137.00,308.39 L137.50,308.26 L138.00,308.09 L138.50,307.87 L139.00,307.61 L139.50,307.32 L140.00,307.00 L140.50,306.66 L141.00,306.29 L141.50,305.90 L142.00,305.50 L142.50,305.00 L143.00,304.33 L143.50,303.51 L144.00,302.58 L144.50,301.57 L145.00,300.49 L145.50,299.37 L146.00,298.01 L146.50,296.43 L147.00,294.79 L147.50,293.25 L148.00,291.93 L148.50,290.70 L149.00,289.53 L149.50,288.40 L150.00,287.30 L150.50,286.31 L151.00,285.36 L151.50,284.20 L152.00,282.67 L152.50,280.77 L153.00,278.50 L153.50,275.48 L154.00,271.75 L154.50,268.28 L155.00,264.79 L155.50,263.47 L156.00,263.34 L156.50,263.30 L157.00,263.94 L157.50,265.53 L158.00,267.58 L158.50,270.21 L159.00,274.00 L159.50,278.04 L160.00,282.27 L160.50,286.52 L161.00,288.52 L161.50,289.62 L162.00,290.28 L162.50,290.38 L163.00,290.22 L163.50,290.04 L164.00,290.02 L164.50,290.23 L165.00,290.55 L165.50,290.86 L166.00,291.24 L166.50,291.65 L167.00,291.94 L167.50,291.88 L168.00,290.92 L168.50,289.85 L169.00,289.61 L169.50,289.72 L170.00,289.92 L170.50,290.20 L171.00,290.59 L171.50,291.46 L172.00,292.68 L172.50,294.14 L173.00,296.29 L173.50,298.55 L174.00,300.16 L174.50,301.50 L175.00,302.73 L175.50,303.83 L176.00,304.79 L176.50,305.59 L177.00,306.20 L177.50,306.71 L178.00,307.18 L178.50,307.63 L179.00,308.06 L179.50,308.46 L180.00,308.83 L180.50,309.17 L181.00,309.49 L181.50,309.79 L182.00,310.06 L182.50,310.31 L183.00,310.53 L183.50,310.73 L184.00,310.91 L184.50,311.07 L185.00,311.20 L185.50,311.32 L186.00,311.43 L186.50,311.54 L187.00,311.65 L187.50,311.75 L188.00,311.85 L188.50,311.94 L189.00,312.03 L189.50,312.11 L190.00,312.19 L190.50,312.27 L191.00,312.35 L191.50,312.42 L192.00,312.49 L192.50,312.55 L193.00,312.61 L193.50,312.67 L194.00,312.73 L194.50,312.79 L195.00,312.84 L195.50,312.89 L196.00,312.94 L196.50,312.99 L197.00,313.04 L197.50,313.08 L198.00,313.13 L198.50,313.17 L199.00,313.22 L199.50,313.26 L200.00,313.30 L200.50,313.34 L201.00,313.38 L201.50,313.42 L202.00,313.46 L202.50,313.50 L203.00,313.53 L203.50,313.57 L204.00,313.60 L204.50,313.63 L205.00,313.67 L205.50,313.70 L206.00,313.73 L206.50,313.76 L207.00,313.79 L207.50,313.82 L208.00,313.85 L208.50,313.87 L209.00,313.90 L209.50,313.93 L210.00,313.95 L210.50,313.98 L211.00,314.00 L211.50,314.03 L212.00,314.05 L212.50,314.08 L213.00,314.10 L213.50,314.13 L214.00,314.15 L214.50,314.18 L215.00,314.20 L215.50,314.22 L216.00,314.25 L216.50,314.27 L217.00,314.29 L217.50,314.31 L218.00,314.33 L218.50,314.36 L219.00,314.38 L219.50,314.40 L220.00,314.42 L220.50,314.44 L221.00,314.46 L221.50,314.48 L222.00,314.49 L222.50,314.51 L223.00,314.53 L223.50,314.55 L224.00,314.57 L224.50,314.59 L225.00,314.61 L225.50,314.63 L226.00,314.64 L226.50,314.66 L227.00,314.68 L227.50,314.70 L228.00,314.72 L228.50,314.74 L229.00,314.76 L229.50,314.78 L230.00,314.80 L230.50,314.82 L231.00,314.84 L231.50,314.86 L232.00,314.88 L232.50,314.90 L233.00,314.92 L233.50,314.94 L234.00,314.96 L234.50,314.99 L235.00,315.01 L235.50,315.03 L236.00,315.05 L236.50,315.07 L237.00,315.09 L237.50,315.11 L238.00,315.13 L238.50,315.15 L239.00,315.17 L239.50,315.19 L240.00,315.22 L240.50,315.24 L241.00,315.26 L241.50,315.28 L242.00,315.30 L242.50,315.32 L243.00,315.34 L243.50,315.36 L244.00,315.39 L244.50,315.41 L245.00,315.43 L245.50,315.45 L246.00,315.47 L246.50,315.49 L247.00,315.51 L247.50,315.54 L248.00,315.56 L248.50,315.58 L249.00,315.60" stroke="#858585" stroke-width="1.3" fill="none"/>
<text x="217.5" y="79.6" font-size="9.5" fill="#222" >IPFY</text>
<text x="217.5" y="136.3" font-size="9.5" fill="#222" >TFY</text>
<text x="216.5" y="234.6" font-size="9.5" fill="#222" >TEY</text>
<text x="187.5" y="301.6" font-size="10" fill="#111">Calc. for Cr<tspan font-size="6.5" dy="-6.3">3+</tspan></text>
<rect x="302.9" y="0.5" width="215.60000000000002" height="323.1" fill="none" stroke="#555" stroke-width="1.1"/>
<path d="M317.00,0.5 V5.5 M317.00,323.6 V318.6 M349.30,0.5 V5.5 M349.30,323.6 V318.6 M381.60,0.5 V5.5 M381.60,323.6 V318.6 M413.90,0.5 V5.5 M413.90,323.6 V318.6 M446.20,0.5 V5.5 M446.20,323.6 V318.6 M478.50,0.5 V5.5 M478.50,323.6 V318.6 M510.80,0.5 V5.5 M510.80,323.6 V318.6 M304.08,0.5 V3.2 M304.08,323.6 V320.90000000000003 M310.54,0.5 V3.2 M310.54,323.6 V320.90000000000003 M323.46,0.5 V3.2 M323.46,323.6 V320.90000000000003 M329.92,0.5 V3.2 M329.92,323.6 V320.90000000000003 M336.38,0.5 V3.2 M336.38,323.6 V320.90000000000003 M342.84,0.5 V3.2 M342.84,323.6 V320.90000000000003 M355.76,0.5 V3.2 M355.76,323.6 V320.90000000000003 M362.22,0.5 V3.2 M362.22,323.6 V320.90000000000003 M368.68,0.5 V3.2 M368.68,323.6 V320.90000000000003 M375.14,0.5 V3.2 M375.14,323.6 V320.90000000000003 M388.06,0.5 V3.2 M388.06,323.6 V320.90000000000003 M394.52,0.5 V3.2 M394.52,323.6 V320.90000000000003 M400.98,0.5 V3.2 M400.98,323.6 V320.90000000000003 M407.44,0.5 V3.2 M407.44,323.6 V320.90000000000003 M420.36,0.5 V3.2 M420.36,323.6 V320.90000000000003 M426.82,0.5 V3.2 M426.82,323.6 V320.90000000000003 M433.28,0.5 V3.2 M433.28,323.6 V320.90000000000003 M439.74,0.5 V3.2 M439.74,323.6 V320.90000000000003 M452.66,0.5 V3.2 M452.66,323.6 V320.90000000000003 M459.12,0.5 V3.2 M459.12,323.6 V320.90000000000003 M465.58,0.5 V3.2 M465.58,323.6 V320.90000000000003 M472.04,0.5 V3.2 M472.04,323.6 V320.90000000000003 M484.96,0.5 V3.2 M484.96,323.6 V320.90000000000003 M491.42,0.5 V3.2 M491.42,323.6 V320.90000000000003 M497.88,0.5 V3.2 M497.88,323.6 V320.90000000000003 M504.34,0.5 V3.2 M504.34,323.6 V320.90000000000003 M517.26,0.5 V3.2 M517.26,323.6 V320.90000000000003" stroke="#555" stroke-width="1" fill="none"/>
<text x="317.0" y="336.4" font-size="10.5" text-anchor="middle" fill="#222" >635</text>
<text x="349.3" y="336.4" font-size="10.5" text-anchor="middle" fill="#222" >640</text>
<text x="381.6" y="336.4" font-size="10.5" text-anchor="middle" fill="#222" >645</text>
<text x="413.9" y="336.4" font-size="10.5" text-anchor="middle" fill="#222" >650</text>
<text x="446.2" y="336.4" font-size="10.5" text-anchor="middle" fill="#222" >655</text>
<text x="478.5" y="336.4" font-size="10.5" text-anchor="middle" fill="#222" >660</text>
<text x="510.8" y="336.4" font-size="10.5" text-anchor="middle" fill="#222" >665</text>
<text x="411" y="355.3" font-size="10" text-anchor="middle" fill="#222" >Photon Energy (eV)</text>
<text transform="translate(278.5,161.5) rotate(-90)" font-size="10" text-anchor="middle" fill="#222">Inensity (arb. units)</text>
<text x="312.6" y="25.5" font-size="18" fill="#222" >(b)</text>
<line x1="359.1" y1="37.5" x2="359.1" y2="318" stroke="#444" stroke-width="1" stroke-dasharray="2 2.6"/>
<line x1="374.6" y1="37.5" x2="374.6" y2="318" stroke="#444" stroke-width="1" stroke-dasharray="2 2.6"/>
<line x1="440.7" y1="48.5" x2="440.7" y2="318" stroke="#444" stroke-width="1" stroke-dasharray="2 2.6"/>
<line x1="440.7" y1="22.5" x2="440.7" y2="37.5" stroke="#444" stroke-width="1" stroke-dasharray="2 2.6"/>
<rect x="350.2" y="5.3" width="164.3" height="15.8" fill="#fff" stroke="#111" stroke-width="1.1"/>
<text x="351.9" y="15.6" font-size="10" fill="#111">Li<tspan font-size="7" dy="2">0.35</tspan><tspan dy="-2">Mn</tspan><tspan font-size="7" dy="2">0.65</tspan><tspan dy="-2">Cr</tspan><tspan font-size="7" dy="2">0.35</tspan><tspan dy="-2">O</tspan><tspan font-size="7" dy="2">2</tspan><tspan dy="-2">, Mn </tspan><tspan font-style="italic">L</tspan><tspan font-size="7" dy="2">2,3</tspan><tspan dy="-2">-edge XAS</tspan></text>
<text x="354" y="32.8" font-size="10" fill="#111">Mn <tspan font-style="italic">L</tspan><tspan font-size="7.6" dy="2.2">3</tspan></text>
<text x="431.3" y="45.6" font-size="10" fill="#111">Mn <tspan font-style="italic">L</tspan><tspan font-size="7.6" dy="2.2">2</tspan></text>
<line x1="336.8" y1="40.3" x2="397.1" y2="40.3" stroke="#777" stroke-width="1"/><path d="M332.8,40.3 L337.8,38.5 L337.8,42.099999999999994 Z" fill="#111"/><path d="M401.1,40.3 L396.1,38.5 L396.1,42.099999999999994 Z" fill="#111"/>
<line x1="418.5" y1="52.3" x2="468.6" y2="52.3" stroke="#777" stroke-width="1"/><path d="M414.5,52.3 L419.5,50.5 L419.5,54.099999999999994 Z" fill="#111"/><path d="M472.6,52.3 L467.6,50.5 L467.6,54.099999999999994 Z" fill="#111"/>
<path d="M303.00,119.71 L303.50,119.38 L304.00,119.39 L304.50,119.46 L305.00,119.40 L305.50,119.29 L306.00,119.16 L306.50,119.23 L307.00,119.56 L307.50,119.89 L308.00,119.68 L308.50,119.35 L309.00,119.28 L309.50,119.18 L310.00,119.13 L310.50,119.25 L311.00,119.36 L311.50,119.40 L312.00,119.42 L312.50,119.34 L313.00,119.39 L313.50,119.55 L314.00,119.42 L314.50,119.21 L315.00,119.22 L315.50,119.45 L316.00,119.54 L316.50,119.31 L317.00,119.24 L317.50,119.28 L318.00,119.13 L318.50,119.16 L319.00,119.36 L319.50,119.36 L320.00,119.31 L320.50,119.10 L321.00,118.90 L321.50,119.07 L322.00,119.01 L322.50,118.90 L323.00,119.17 L323.50,119.29 L324.00,119.11 L324.50,119.01 L325.00,119.12 L325.50,119.30 L326.00,119.46 L326.50,119.43 L327.00,119.37 L327.50,119.37 L328.00,119.18 L328.50,119.09 L329.00,119.26 L329.50,119.32 L330.00,119.15 L330.50,119.08 L331.00,118.99 L331.50,118.89 L332.00,119.15 L332.50,119.20 L333.00,119.00 L333.50,119.01 L334.00,119.12 L334.50,119.09 L335.00,118.88 L335.50,118.95 L336.00,119.27 L336.50,119.15 L337.00,118.73 L337.50,118.70 L338.00,118.77 L338.50,118.75 L339.00,118.69 L339.50,118.44 L340.00,118.25 L340.50,118.24 L341.00,118.30 L341.50,118.14 L342.00,117.79 L342.50,117.71 L343.00,117.94 L343.50,117.94 L344.00,117.76 L344.50,117.62 L345.00,117.29 L345.50,116.88 L346.00,116.54 L346.50,116.42 L347.00,116.22 L347.50,115.67 L348.00,115.22 L348.50,114.95 L349.00,114.57 L349.50,113.92 L350.00,112.96 L350.50,112.12 L351.00,111.62 L351.50,111.02 L352.00,110.06 L352.50,108.85 L353.00,107.58 L353.50,106.23 L354.00,104.73 L354.50,102.90 L355.00,100.50 L355.50,97.75 L356.00,94.75 L356.50,91.36 L357.00,87.32 L357.50,82.19 L358.00,75.02 L358.50,68.96 L359.00,66.15 L359.50,70.34 L360.00,75.59 L360.50,80.58 L361.00,85.15 L361.50,87.49 L362.00,87.55 L362.50,87.21 L363.00,87.00 L363.50,86.25 L364.00,85.00 L364.50,83.73 L365.00,82.60 L365.50,81.40 L366.00,80.33 L366.50,79.41 L367.00,78.41 L367.50,77.15 L368.00,75.49 L368.50,73.52 L369.00,71.49 L369.50,69.48 L370.00,67.05 L370.50,63.86 L371.00,60.38 L371.50,57.45 L372.00,54.83 L372.50,52.13 L373.00,49.84 L373.50,48.49 L374.00,47.35 L374.50,46.41 L375.00,46.57 L375.50,47.58 L376.00,49.07 L376.50,51.10 L377.00,53.68 L377.50,56.27 L378.00,58.58 L378.50,60.34 L379.00,61.77 L379.50,63.04 L380.00,64.48 L380.50,65.91 L381.00,67.19 L381.50,68.40 L382.00,69.60 L382.50,70.96 L383.00,72.39 L383.50,73.81 L384.00,75.70 L384.50,77.89 L385.00,79.88 L385.50,81.41 L386.00,82.76 L386.50,84.36 L387.00,85.87 L387.50,87.22 L388.00,88.52 L388.50,89.59 L389.00,90.45 L389.50,91.26 L390.00,92.05 L390.50,92.62 L391.00,93.27 L391.50,94.00 L392.00,94.74 L392.50,95.62 L393.00,96.38 L393.50,96.92 L394.00,97.25 L394.50,97.64 L395.00,98.28 L395.50,98.81 L396.00,99.20 L396.50,99.65 L397.00,100.19 L397.50,100.63 L398.00,100.91 L398.50,101.22 L399.00,101.40 L399.50,101.56 L400.00,101.83 L400.50,102.16 L401.00,102.68 L401.50,103.13 L402.00,103.38 L402.50,103.71 L403.00,104.04 L403.50,104.12 L404.00,104.16 L404.50,104.14 L405.00,104.20 L405.50,104.35 L406.00,104.42 L406.50,104.62 L407.00,104.86 L407.50,104.95 L408.00,104.86 L408.50,104.79 L409.00,104.89 L409.50,104.90 L410.00,104.93 L410.50,105.01 L411.00,105.01 L411.50,104.97 L412.00,104.94 L412.50,104.86 L413.00,104.78 L413.50,104.87 L414.00,105.05 L414.50,105.34 L415.00,105.31 L415.50,105.00 L416.00,105.06 L416.50,105.11 L417.00,105.07 L417.50,105.06 L418.00,104.63 L418.50,104.04 L419.00,103.65 L419.50,103.23 L420.00,102.61 L420.50,101.96 L421.00,101.44 L421.50,100.67 L422.00,99.59 L422.50,98.69 L423.00,97.90 L423.50,97.15 L424.00,96.41 L424.50,95.29 L425.00,94.01 L425.50,92.99 L426.00,92.24 L426.50,91.40 L427.00,90.16 L427.50,88.89 L428.00,87.69 L428.50,86.53 L429.00,85.39 L429.50,84.10 L430.00,83.08 L430.50,82.33 L431.00,81.52 L431.50,80.87 L432.00,80.42 L432.50,79.76 L433.00,78.93 L433.50,78.16 L434.00,77.58 L434.50,77.20 L435.00,76.69 L435.50,76.03 L436.00,75.29 L436.50,74.34 L437.00,73.30 L437.50,72.32 L438.00,71.26 L438.50,70.20 L439.00,69.40 L439.50,68.53 L440.00,67.35 L440.50,66.28 L441.00,65.64 L441.50,65.15 L442.00,64.70 L442.50,64.75 L443.00,65.38 L443.50,66.11 L444.00,66.83 L444.50,67.96 L445.00,69.05 L445.50,69.98 L446.00,71.26 L446.50,72.51 L447.00,73.71 L447.50,75.05 L448.00,76.37 L448.50,77.99 L449.00,79.58 L449.50,80.82 L450.00,82.00 L450.50,83.03 L451.00,83.97 L451.50,84.70 L452.00,85.35 L452.50,86.39 L453.00,87.39 L453.50,88.05 L454.00,88.82 L454.50,89.72 L455.00,90.30 L455.50,90.79 L456.00,91.60 L456.50,92.40 L457.00,92.99 L457.50,93.69 L458.00,94.29 L458.50,94.52 L459.00,94.68 L459.50,95.11 L460.00,95.76 L460.50,96.34 L461.00,96.72 L461.50,97.00 L462.00,97.28 L462.50,97.59 L463.00,97.85 L463.50,98.04 L464.00,98.16 L464.50,98.39 L465.00,98.73 L465.50,98.95 L466.00,99.26 L466.50,99.66 L467.00,100.08 L467.50,100.51 L468.00,100.50 L468.50,100.38 L469.00,100.60 L469.50,100.72 L470.00,100.81 L470.50,101.00 L471.00,100.83 L471.50,100.78 L472.00,101.23 L472.50,101.62 L473.00,101.82 L473.50,101.76 L474.00,101.87 L474.50,102.18 L475.00,102.22 L475.50,102.44 L476.00,102.74 L476.50,102.72 L477.00,102.71 L477.50,102.86 L478.00,102.93 L478.50,102.91 L479.00,103.04 L479.50,103.30 L480.00,103.37 L480.50,103.05 L481.00,102.87 L481.50,102.95 L482.00,102.92 L482.50,102.87 L483.00,102.92 L483.50,102.85 L484.00,102.63 L484.50,102.31 L485.00,102.03 L485.50,102.19 L486.00,102.42 L486.50,102.18 L487.00,101.89 L487.50,101.86 L488.00,101.98 L488.50,101.88 L489.00,101.71 L489.50,101.79 L490.00,101.85 L490.50,101.73 L491.00,101.69 L491.50,101.79 L492.00,101.69 L492.50,101.43 L493.00,101.31 L493.50,101.36 L494.00,101.42 L494.50,101.40 L495.00,101.44 L495.50,101.48 L496.00,101.47 L496.50,101.34 L497.00,100.99 L497.50,100.77 L498.00,100.96 L498.50,101.10 L499.00,101.03 L499.50,100.91 L500.00,100.74 L500.50,100.58 L501.00,100.62 L501.50,100.77 L502.00,100.64 L502.50,100.32 L503.00,100.17 L503.50,100.33 L504.00,100.51 L504.50,100.32 L505.00,100.15 L505.50,100.32 L506.00,100.37 L506.50,100.22 L507.00,100.11 L507.50,100.04 L508.00,99.93 L508.50,99.75 L509.00,99.65 L509.50,99.73 L510.00,99.80 L510.50,99.63 L511.00,99.32 L511.50,99.41 L512.00,99.51 L512.50,99.36 L513.00,99.37 L513.50,99.42 L514.00,99.30 L514.50,99.12 L515.00,99.15 L515.50,99.35 L516.00,99.36 L516.50,99.18 L517.00,99.07 L517.50,99.13 L518.00,99.17" stroke="#f0a414" stroke-width="1.6" fill="none" stroke-linejoin="round"/>
<path d="M303.00,128.53 L303.50,128.80 L304.00,129.17 L304.50,128.92 L305.00,128.50 L305.50,128.56 L306.00,128.72 L306.50,128.65 L307.00,128.57 L307.50,128.82 L308.00,129.20 L308.50,129.38 L309.00,129.30 L309.50,129.00 L310.00,129.02 L310.50,129.19 L311.00,129.04 L311.50,129.12 L312.00,129.10 L312.50,128.87 L313.00,128.88 L313.50,129.05 L314.00,129.25 L314.50,129.47 L315.00,129.43 L315.50,129.10 L316.00,129.06 L316.50,129.28 L317.00,129.26 L317.50,129.03 L318.00,129.19 L318.50,129.35 L319.00,129.34 L319.50,129.65 L320.00,129.86 L320.50,129.98 L321.00,129.88 L321.50,129.48 L322.00,129.40 L322.50,129.69 L323.00,130.01 L323.50,129.99 L324.00,129.69 L324.50,129.54 L325.00,129.56 L325.50,129.65 L326.00,129.79 L326.50,130.13 L327.00,130.37 L327.50,130.10 L328.00,129.97 L328.50,130.03 L329.00,129.90 L329.50,129.95 L330.00,130.22 L330.50,130.23 L331.00,130.19 L331.50,130.40 L332.00,130.41 L332.50,130.45 L333.00,130.69 L333.50,130.81 L334.00,130.83 L334.50,130.70 L335.00,130.65 L335.50,130.61 L336.00,130.67 L336.50,130.87 L337.00,130.70 L337.50,130.83 L338.00,131.37 L338.50,131.23 L339.00,131.20 L339.50,131.63 L340.00,131.76 L340.50,131.74 L341.00,131.66 L341.50,131.55 L342.00,131.40 L342.50,131.43 L343.00,131.86 L343.50,132.40 L344.00,133.02 L344.50,133.25 L345.00,133.05 L345.50,133.13 L346.00,133.27 L346.50,133.29 L347.00,133.35 L347.50,133.81 L348.00,134.71 L348.50,135.82 L349.00,137.09 L349.50,138.50 L350.00,139.97 L350.50,141.14 L351.00,142.23 L351.50,143.33 L352.00,143.98 L352.50,144.39 L353.00,144.96 L353.50,145.92 L354.00,147.43 L354.50,149.82 L355.00,152.93 L355.50,156.36 L356.00,160.51 L356.50,165.00 L357.00,167.16 L357.50,168.93 L358.00,170.01 L358.50,170.32 L359.00,169.11 L359.50,166.24 L360.00,163.54 L360.50,162.02 L361.00,160.27 L361.50,158.70 L362.00,157.68 L362.50,157.35 L363.00,157.74 L363.50,157.95 L364.00,158.36 L364.50,159.25 L365.00,159.64 L365.50,159.61 L366.00,159.97 L366.50,160.67 L367.00,161.17 L367.50,161.41 L368.00,161.95 L368.50,162.68 L369.00,163.22 L369.50,163.93 L370.00,164.56 L370.50,164.94 L371.00,165.21 L371.50,165.45 L372.00,165.97 L372.50,166.19 L373.00,165.88 L373.50,165.87 L374.00,165.57 L374.50,164.71 L375.00,163.86 L375.50,162.98 L376.00,162.07 L376.50,161.46 L377.00,161.20 L377.50,161.22 L378.00,161.16 L378.50,161.01 L379.00,161.01 L379.50,160.90 L380.00,160.92 L380.50,161.06 L381.00,161.02 L381.50,161.00 L382.00,161.11 L382.50,161.29 L383.00,161.67 L383.50,162.38 L384.00,163.03 L384.50,163.47 L385.00,163.74 L385.50,163.14 L386.00,162.28 L386.50,162.39 L387.00,162.55 L387.50,161.92 L388.00,161.17 L388.50,160.90 L389.00,160.99 L389.50,160.80 L390.00,160.34 L390.50,160.03 L391.00,159.84 L391.50,159.27 L392.00,158.65 L392.50,158.50 L393.00,158.27 L393.50,157.96 L394.00,157.76 L394.50,157.09 L395.00,156.58 L395.50,156.94 L396.00,156.94 L396.50,156.34 L397.00,155.97 L397.50,155.66 L398.00,155.32 L398.50,155.21 L399.00,155.02 L399.50,154.63 L400.00,154.28 L400.50,154.24 L401.00,154.47 L401.50,154.41 L402.00,153.97 L402.50,153.45 L403.00,153.16 L403.50,153.32 L404.00,153.11 L404.50,152.58 L405.00,152.24 L405.50,151.77 L406.00,151.64 L406.50,151.55 L407.00,150.97 L407.50,150.67 L408.00,150.85 L408.50,150.79 L409.00,150.52 L409.50,150.29 L410.00,150.07 L410.50,149.99 L411.00,149.70 L411.50,149.37 L412.00,149.22 L412.50,149.16 L413.00,149.30 L413.50,149.17 L414.00,148.55 L414.50,147.89 L415.00,147.43 L415.50,147.31 L416.00,147.33 L416.50,147.21 L417.00,147.04 L417.50,146.94 L418.00,146.67 L418.50,146.18 L419.00,146.11 L419.50,146.42 L420.00,146.26 L420.50,145.93 L421.00,145.77 L421.50,145.38 L422.00,144.86 L422.50,144.64 L423.00,144.76 L423.50,144.78 L424.00,144.67 L424.50,144.42 L425.00,144.01 L425.50,143.83 L426.00,143.64 L426.50,143.16 L427.00,142.71 L427.50,142.49 L428.00,142.30 L428.50,142.01 L429.00,141.36 L429.50,140.38 L430.00,139.36 L430.50,138.29 L431.00,137.36 L431.50,136.66 L432.00,135.99 L432.50,134.98 L433.00,133.91 L433.50,133.18 L434.00,132.34 L434.50,131.35 L435.00,130.40 L435.50,129.87 L436.00,129.55 L436.50,128.59 L437.00,127.26 L437.50,125.92 L438.00,125.01 L438.50,124.74 L439.00,124.89 L439.50,125.14 L440.00,125.47 L440.50,126.31 L441.00,127.09 L441.50,127.51 L442.00,128.02 L442.50,128.46 L443.00,129.04 L443.50,129.85 L444.00,130.40 L444.50,130.63 L445.00,131.19 L445.50,131.82 L446.00,132.18 L446.50,132.76 L447.00,133.42 L447.50,134.26 L448.00,135.38 L448.50,136.58 L449.00,137.74 L449.50,138.60 L450.00,139.25 L450.50,140.02 L451.00,141.18 L451.50,142.38 L452.00,143.70 L452.50,145.31 L453.00,146.24 L453.50,146.86 L454.00,147.98 L454.50,149.20 L455.00,149.97 L455.50,150.31 L456.00,150.67 L456.50,150.84 L457.00,150.98 L457.50,151.38 L458.00,151.54 L458.50,151.68 L459.00,151.98 L459.50,152.05 L460.00,152.16 L460.50,152.23 L461.00,152.27 L461.50,152.57 L462.00,152.75 L462.50,152.65 L463.00,152.92 L463.50,153.23 L464.00,153.04 L464.50,153.06 L465.00,153.19 L465.50,153.15 L466.00,153.15 L466.50,153.20 L467.00,153.34 L467.50,153.26 L468.00,153.26 L468.50,153.53 L469.00,153.46 L469.50,153.20 L470.00,153.11 L470.50,153.21 L471.00,153.40 L471.50,153.63 L472.00,153.61 L472.50,153.30 L473.00,153.43 L473.50,153.79 L474.00,153.78 L474.50,153.86 L475.00,154.03 L475.50,153.91 L476.00,153.75 L476.50,153.88 L477.00,154.16 L477.50,154.02 L478.00,153.71 L478.50,153.63 L479.00,153.67 L479.50,153.96 L480.00,154.06 L480.50,153.86 L481.00,153.64 L481.50,153.64 L482.00,151.72 L482.50,151.05 L483.00,154.00 L483.50,154.14 L484.00,154.00 L484.50,153.88 L485.00,153.83 L485.50,154.13 L486.00,154.65 L486.50,154.51 L487.00,154.35 L487.50,154.19 L488.00,153.81 L488.50,154.09 L489.00,154.37 L489.50,154.34 L490.00,154.30 L490.50,154.16 L491.00,154.46 L491.50,154.57 L492.00,154.08 L492.50,154.08 L493.00,154.51 L493.50,154.65 L494.00,154.67 L494.50,154.85 L495.00,154.80 L495.50,154.61 L496.00,154.63 L496.50,154.48 L497.00,154.19 L497.50,154.48 L498.00,155.16 L498.50,155.60 L499.00,155.64 L499.50,155.31 L500.00,155.34 L500.50,155.65 L501.00,155.77 L501.50,155.91 L502.00,155.90 L502.50,155.58 L503.00,155.34 L503.50,155.84 L504.00,156.56 L504.50,156.79 L505.00,156.66 L505.50,156.39 L506.00,156.25 L506.50,156.34 L507.00,156.57 L507.50,156.74 L508.00,157.00 L508.50,157.10 L509.00,156.90 L509.50,156.78 L510.00,156.81 L510.50,157.01 L511.00,157.04 L511.50,157.02 L512.00,157.33 L512.50,157.56 L513.00,157.35 L513.50,157.02 L514.00,157.03 L514.50,157.20 L515.00,157.19 L515.50,157.24 L516.00,157.50 L516.50,157.60 L517.00,157.56 L517.50,157.88 L518.00,158.13" stroke="#0c10cc" stroke-width="1.7" fill="none" stroke-linejoin="round"/>
<path d="M303.00,242.60 L303.50,242.60 L304.00,242.60 L304.50,242.60 L305.00,242.60 L305.50,242.60 L306.00,242.60 L306.50,242.60 L307.00,242.60 L307.50,242.60 L308.00,242.60 L308.50,242.60 L309.00,242.60 L309.50,242.60 L310.00,242.60 L310.50,242.60 L311.00,242.60 L311.50,242.60 L312.00,242.60 L312.50,242.60 L313.00,242.60 L313.50,242.60 L314.00,242.60 L314.50,242.60 L315.00,242.60 L315.50,242.60 L316.00,242.60 L316.50,242.60 L317.00,242.60 L317.50,242.60 L318.00,242.60 L318.50,242.60 L319.00,242.60 L319.50,242.60 L320.00,242.60 L320.50,242.60 L321.00,242.60 L321.50,242.61 L322.00,242.61 L322.50,242.61 L323.00,242.62 L323.50,242.63 L324.00,242.64 L324.50,242.64 L325.00,242.65 L325.50,242.66 L326.00,242.67 L326.50,242.68 L327.00,242.69 L327.50,242.70 L328.00,242.71 L328.50,242.72 L329.00,242.73 L329.50,242.74 L330.00,242.75 L330.50,242.76 L331.00,242.76 L331.50,242.77 L332.00,242.78 L332.50,242.79 L333.00,242.79 L333.50,242.79 L334.00,242.80 L334.50,242.80 L335.00,242.80 L335.50,242.79 L336.00,242.76 L336.50,242.71 L337.00,242.64 L337.50,242.55 L338.00,242.46 L338.50,242.35 L339.00,242.23 L339.50,242.10 L340.00,241.96 L340.50,241.82 L341.00,241.68 L341.50,241.53 L342.00,241.38 L342.50,241.21 L343.00,241.01 L343.50,240.79 L344.00,240.54 L344.50,240.26 L345.00,239.94 L345.50,239.58 L346.00,239.12 L346.50,238.48 L347.00,237.69 L347.50,236.81 L348.00,235.88 L348.50,234.89 L349.00,233.73 L349.50,232.45 L350.00,231.12 L350.50,229.84 L351.00,228.68 L351.50,227.67 L352.00,226.73 L352.50,225.79 L353.00,224.77 L353.50,223.60 L354.00,222.27 L354.50,220.79 L355.00,219.06 L355.50,217.00 L356.00,214.30 L356.50,210.85 L357.00,206.82 L357.50,201.52 L358.00,196.30 L358.50,191.07 L359.00,190.40 L359.50,195.28 L360.00,200.67 L360.50,206.11 L361.00,207.86 L361.50,208.15 L362.00,208.29 L362.50,208.07 L363.00,206.90 L363.50,205.31 L364.00,203.90 L364.50,203.02 L365.00,202.30 L365.50,201.66 L366.00,201.00 L366.50,200.24 L367.00,199.30 L367.50,198.20 L368.00,196.91 L368.50,195.41 L369.00,193.63 L369.50,191.23 L370.00,188.42 L370.50,185.49 L371.00,182.67 L371.50,179.62 L372.00,176.59 L372.50,174.01 L373.00,172.06 L373.50,170.30 L374.00,169.33 L374.50,169.65 L375.00,170.77 L375.50,172.21 L376.00,174.43 L376.50,177.36 L377.00,180.39 L377.50,182.96 L378.00,185.18 L378.50,187.28 L379.00,189.28 L379.50,191.22 L380.00,193.10 L380.50,194.91 L381.00,196.64 L381.50,198.33 L382.00,200.00 L382.50,201.70 L383.00,203.48 L383.50,205.35 L384.00,207.25 L384.50,209.08 L385.00,210.78 L385.50,212.28 L386.00,213.66 L386.50,214.95 L387.00,216.16 L387.50,217.28 L388.00,218.30 L388.50,219.25 L389.00,220.14 L389.50,220.99 L390.00,221.78 L390.50,222.52 L391.00,223.21 L391.50,223.86 L392.00,224.49 L392.50,225.10 L393.00,225.68 L393.50,226.22 L394.00,226.71 L394.50,227.14 L395.00,227.50 L395.50,227.80 L396.00,228.07 L396.50,228.31 L397.00,228.52 L397.50,228.73 L398.00,228.92 L398.50,229.11 L399.00,229.30 L399.50,229.49 L400.00,229.70 L400.50,229.91 L401.00,230.12 L401.50,230.33 L402.00,230.54 L402.50,230.75 L403.00,230.96 L403.50,231.17 L404.00,231.38 L404.50,231.59 L405.00,231.80 L405.50,232.03 L406.00,232.29 L406.50,232.56 L407.00,232.84 L407.50,233.11 L408.00,233.37 L408.50,233.60 L409.00,233.78 L409.50,233.92 L410.00,234.00 L410.50,234.04 L411.00,234.08 L411.50,234.11 L412.00,234.14 L412.50,234.17 L413.00,234.19 L413.50,234.20 L414.00,234.20 L414.50,234.12 L415.00,233.89 L415.50,233.55 L416.00,233.12 L416.50,232.62 L417.00,232.08 L417.50,231.53 L418.00,231.00 L418.50,230.44 L419.00,229.79 L419.50,229.08 L420.00,228.31 L420.50,227.50 L421.00,226.67 L421.50,225.83 L422.00,225.00 L422.50,224.18 L423.00,223.40 L423.50,222.63 L424.00,221.86 L424.50,221.08 L425.00,220.30 L425.50,219.52 L426.00,218.75 L426.50,217.98 L427.00,217.24 L427.50,216.51 L428.00,215.80 L428.50,215.11 L429.00,214.43 L429.50,213.77 L430.00,213.11 L430.50,212.47 L431.00,211.84 L431.50,211.21 L432.00,210.60 L432.50,209.99 L433.00,209.40 L433.50,208.82 L434.00,208.25 L434.50,207.70 L435.00,207.15 L435.50,206.61 L436.00,206.08 L436.50,205.54 L437.00,205.00 L437.50,204.41 L438.00,203.73 L438.50,203.03 L439.00,202.32 L439.50,201.67 L440.00,201.10 L440.50,200.65 L441.00,200.37 L441.50,200.30 L442.00,200.41 L442.50,200.65 L443.00,201.01 L443.50,201.44 L444.00,201.94 L444.50,202.46 L445.00,203.00 L445.50,203.60 L446.00,204.32 L446.50,205.15 L447.00,206.08 L447.50,207.09 L448.00,208.18 L448.50,209.32 L449.00,210.50 L449.50,211.89 L450.00,213.55 L450.50,215.35 L451.00,217.15 L451.50,218.81 L452.00,220.20 L452.50,221.38 L453.00,222.51 L453.50,223.57 L454.00,224.57 L454.50,225.49 L455.00,226.32 L455.50,227.06 L456.00,227.70 L456.50,228.27 L457.00,228.82 L457.50,229.33 L458.00,229.82 L458.50,230.28 L459.00,230.71 L459.50,231.11 L460.00,231.47 L460.50,231.81 L461.00,232.11 L461.50,232.37 L462.00,232.60 L462.50,232.81 L463.00,233.00 L463.50,233.19 L464.00,233.37 L464.50,233.53 L465.00,233.69 L465.50,233.84 L466.00,233.98 L466.50,234.12 L467.00,234.24 L467.50,234.35 L468.00,234.46 L468.50,234.56 L469.00,234.65 L469.50,234.73 L470.00,234.80 L470.50,234.87 L471.00,234.94 L471.50,235.00 L472.00,235.07 L472.50,235.13 L473.00,235.20 L473.50,235.26 L474.00,235.32 L474.50,235.37 L475.00,235.42 L475.50,235.47 L476.00,235.52 L476.50,235.56 L477.00,235.59 L477.50,235.62 L478.00,235.65 L478.50,235.67 L479.00,235.69 L479.50,235.70 L480.00,235.70 L480.50,235.70 L481.00,235.69 L481.50,235.68 L482.00,235.67 L482.50,235.65 L483.00,235.63 L483.50,235.61 L484.00,235.59 L484.50,235.56 L485.00,235.53 L485.50,235.50 L486.00,235.47 L486.50,235.44 L487.00,235.41 L487.50,235.37 L488.00,235.34 L488.50,235.30 L489.00,235.27 L489.50,235.23 L490.00,235.20 L490.50,235.16 L491.00,235.12 L491.50,235.07 L492.00,235.01 L492.50,234.95 L493.00,234.89 L493.50,234.82 L494.00,234.75 L494.50,234.68 L495.00,234.62 L495.50,234.55 L496.00,234.49 L496.50,234.43 L497.00,234.37 L497.50,234.32 L498.00,234.28 L498.50,234.25 L499.00,234.22 L499.50,234.21 L500.00,234.20 L500.50,234.20 L501.00,234.20 L501.50,234.20 L502.00,234.20 L502.50,234.20 L503.00,234.20 L503.50,234.20 L504.00,234.20 L504.50,234.20 L505.00,234.20 L505.50,234.20 L506.00,234.20 L506.50,234.20 L507.00,234.20 L507.50,234.20 L508.00,234.20 L508.50,234.20 L509.00,234.20 L509.50,234.20 L510.00,234.20 L510.50,234.20 L511.00,234.20 L511.50,234.20 L512.00,234.20 L512.50,234.20 L513.00,234.20 L513.50,234.20 L514.00,234.20 L514.50,234.20 L515.00,234.20 L515.50,234.20 L516.00,234.20 L516.50,234.20 L517.00,234.20 L517.50,234.20 L518.00,234.20" stroke="#cf1428" stroke-width="1.5" fill="none"/>
<path d="M303.00,311.60 L303.50,311.60 L304.00,311.60 L304.50,311.60 L305.00,311.60 L305.50,311.60 L306.00,311.60 L306.50,311.60 L307.00,311.60 L307.50,311.60 L308.00,311.60 L308.50,311.60 L309.00,311.60 L309.50,311.60 L310.00,311.60 L310.50,311.60 L311.00,311.60 L311.50,311.60 L312.00,311.60 L312.50,311.60 L313.00,311.60 L313.50,311.60 L314.00,311.60 L314.50,311.60 L315.00,311.60 L315.50,311.60 L316.00,311.60 L316.50,311.60 L317.00,311.60 L317.50,311.60 L318.00,311.60 L318.50,311.60 L319.00,311.60 L319.50,311.60 L320.00,311.60 L320.50,311.60 L321.00,311.59 L321.50,311.59 L322.00,311.58 L322.50,311.57 L323.00,311.56 L323.50,311.54 L324.00,311.53 L324.50,311.51 L325.00,311.49 L325.50,311.47 L326.00,311.45 L326.50,311.42 L327.00,311.40 L327.50,311.38 L328.00,311.35 L328.50,311.32 L329.00,311.30 L329.50,311.27 L330.00,311.24 L330.50,311.22 L331.00,311.19 L331.50,311.17 L332.00,311.14 L332.50,311.11 L333.00,311.09 L333.50,311.07 L334.00,311.04 L334.50,311.02 L335.00,311.00 L335.50,310.98 L336.00,310.96 L336.50,310.95 L337.00,310.93 L337.50,310.92 L338.00,310.90 L338.50,310.88 L339.00,310.86 L339.50,310.83 L340.00,310.80 L340.50,310.75 L341.00,310.68 L341.50,310.60 L342.00,310.49 L342.50,310.37 L343.00,310.23 L343.50,310.08 L344.00,309.93 L344.50,309.77 L345.00,309.60 L345.50,309.43 L346.00,309.25 L346.50,309.04 L347.00,308.82 L347.50,308.57 L348.00,308.30 L348.50,308.01 L349.00,307.70 L349.50,307.36 L350.00,307.00 L350.50,306.60 L351.00,306.15 L351.50,305.63 L352.00,305.03 L352.50,304.35 L353.00,303.48 L353.50,302.29 L354.00,300.85 L354.50,299.24 L355.00,297.40 L355.50,295.17 L356.00,292.69 L356.50,290.11 L357.00,287.31 L357.50,284.27 L358.00,281.89 L358.50,279.84 L359.00,278.45 L359.50,278.53 L360.00,279.63 L360.50,281.00 L361.00,282.66 L361.50,284.54 L362.00,285.78 L362.50,286.61 L363.00,287.27 L363.50,287.59 L364.00,287.34 L364.50,286.50 L365.00,285.42 L365.50,284.37 L366.00,283.16 L366.50,281.80 L367.00,280.32 L367.50,278.72 L368.00,276.93 L368.50,274.97 L369.00,272.84 L369.50,270.54 L370.00,268.00 L370.50,265.26 L371.00,262.39 L371.50,259.31 L372.00,255.95 L372.50,252.49 L373.00,249.14 L373.50,245.82 L374.00,242.56 L374.50,240.21 L375.00,238.66 L375.50,240.00 L376.00,243.20 L376.50,245.86 L377.00,248.58 L377.50,251.37 L378.00,254.26 L378.50,257.34 L379.00,260.44 L379.50,263.34 L380.00,265.89 L380.50,268.21 L381.00,270.39 L381.50,272.51 L382.00,274.64 L382.50,276.86 L383.00,279.23 L383.50,281.68 L384.00,284.09 L384.50,286.33 L385.00,288.30 L385.50,290.08 L386.00,291.81 L386.50,293.40 L387.00,294.78 L387.50,295.86 L388.00,296.64 L388.50,297.28 L389.00,297.82 L389.50,298.28 L390.00,298.68 L390.50,299.04 L391.00,299.35 L391.50,299.62 L392.00,299.87 L392.50,300.10 L393.00,300.32 L393.50,300.53 L394.00,300.74 L394.50,300.96 L395.00,301.19 L395.50,301.45 L396.00,301.73 L396.50,302.04 L397.00,302.36 L397.50,302.70 L398.00,303.03 L398.50,303.36 L399.00,303.67 L399.50,303.95 L400.00,304.20 L400.50,304.43 L401.00,304.65 L401.50,304.87 L402.00,305.08 L402.50,305.28 L403.00,305.48 L403.50,305.66 L404.00,305.84 L404.50,306.01 L405.00,306.17 L405.50,306.32 L406.00,306.46 L406.50,306.59 L407.00,306.70 L407.50,306.81 L408.00,306.91 L408.50,307.01 L409.00,307.09 L409.50,307.15 L410.00,307.20 L410.50,307.23 L411.00,307.26 L411.50,307.29 L412.00,307.32 L412.50,307.34 L413.00,307.36 L413.50,307.38 L414.00,307.39 L414.50,307.40 L415.00,307.40 L415.50,307.36 L416.00,307.24 L416.50,307.05 L417.00,306.81 L417.50,306.51 L418.00,306.17 L418.50,305.81 L419.00,305.42 L419.50,305.01 L420.00,304.60 L420.50,304.13 L421.00,303.56 L421.50,302.89 L422.00,302.15 L422.50,301.35 L423.00,300.50 L423.50,299.63 L424.00,298.75 L424.50,297.86 L425.00,297.00 L425.50,296.12 L426.00,295.19 L426.50,294.21 L427.00,293.21 L427.50,292.20 L428.00,291.19 L428.50,290.19 L429.00,289.21 L429.50,288.28 L430.00,287.40 L430.50,286.57 L431.00,285.76 L431.50,284.97 L432.00,284.21 L432.50,283.46 L433.00,282.72 L433.50,281.99 L434.00,281.26 L434.50,280.53 L435.00,279.80 L435.50,279.03 L436.00,278.22 L436.50,277.41 L437.00,276.66 L437.50,276.01 L438.00,275.50 L438.50,275.08 L439.00,274.67 L439.50,274.33 L440.00,274.09 L440.50,274.00 L441.00,275.05 L441.50,277.18 L442.00,278.80 L442.50,279.56 L443.00,280.15 L443.50,280.63 L444.00,281.04 L444.50,281.43 L445.00,281.86 L445.50,282.36 L446.00,283.00 L446.50,283.79 L447.00,284.72 L447.50,285.77 L448.00,286.93 L448.50,288.18 L449.00,289.50 L449.50,291.10 L450.00,293.06 L450.50,295.16 L451.00,297.21 L451.50,298.99 L452.00,300.30 L452.50,301.26 L453.00,302.14 L453.50,302.93 L454.00,303.65 L454.50,304.28 L455.00,304.83 L455.50,305.30 L456.00,305.70 L456.50,306.05 L457.00,306.38 L457.50,306.69 L458.00,306.98 L458.50,307.25 L459.00,307.50 L459.50,307.72 L460.00,307.93 L460.50,308.11 L461.00,308.26 L461.50,308.39 L462.00,308.50 L462.50,308.59 L463.00,308.67 L463.50,308.75 L464.00,308.82 L464.50,308.89 L465.00,308.95 L465.50,309.00 L466.00,309.06 L466.50,309.11 L467.00,309.15 L467.50,309.20 L468.00,309.24 L468.50,309.28 L469.00,309.32 L469.50,309.36 L470.00,309.40 L470.50,309.44 L471.00,309.48 L471.50,309.52 L472.00,309.56 L472.50,309.61 L473.00,309.65 L473.50,309.69 L474.00,309.73 L474.50,309.76 L475.00,309.80 L475.50,309.83 L476.00,309.86 L476.50,309.89 L477.00,309.92 L477.50,309.94 L478.00,309.96 L478.50,309.98 L479.00,309.99 L479.50,310.00 L480.00,310.00 L480.50,310.00 L481.00,310.00 L481.50,310.00 L482.00,310.00 L482.50,310.00 L483.00,310.00 L483.50,310.00 L484.00,310.00 L484.50,310.00 L485.00,310.00 L485.50,310.00 L486.00,310.00 L486.50,310.00 L487.00,310.00 L487.50,310.00 L488.00,310.00 L488.50,310.00 L489.00,310.00 L489.50,310.00 L490.00,310.00 L490.50,310.01 L491.00,310.02 L491.50,310.05 L492.00,310.09 L492.50,310.13 L493.00,310.18 L493.50,310.24 L494.00,310.30 L494.50,310.36 L495.00,310.43 L495.50,310.50 L496.00,310.56 L496.50,310.63 L497.00,310.70 L497.50,310.76 L498.00,310.82 L498.50,310.88 L499.00,310.92 L499.50,310.97 L500.00,311.00 L500.50,311.03 L501.00,311.06 L501.50,311.09 L502.00,311.12 L502.50,311.15 L503.00,311.17 L503.50,311.20 L504.00,311.23 L504.50,311.26 L505.00,311.28 L505.50,311.31 L506.00,311.34 L506.50,311.36 L507.00,311.39 L507.50,311.41 L508.00,311.44 L508.50,311.46 L509.00,311.48 L509.50,311.50 L510.00,311.52 L510.50,311.54 L511.00,311.56 L511.50,311.58 L512.00,311.60 L512.50,311.61 L513.00,311.63 L513.50,311.64 L514.00,311.65 L514.50,311.66 L515.00,311.67 L515.50,311.68 L516.00,311.69 L516.50,311.69 L517.00,311.70 L517.50,311.70 L518.00,311.70" stroke="#858585" stroke-width="1.3" fill="none"/>
<text x="485.3" y="92.6" font-size="9.5" fill="#222" >IPFY</text>
<text x="487" y="143" font-size="9.5" fill="#222" >TFY</text>
<text x="485.8" y="222.3" font-size="9.5" fill="#222" >TEY</text>
<text x="455.6" y="290" font-size="10" fill="#111">Calc. for Mn<tspan font-size="6.5" dy="-7.3">4+</tspan></text>
<rect x="81.5" y="379.1" width="414.1" height="270.19999999999993" fill="none" stroke="#555" stroke-width="1.1"/>
<path d="M134.40,379.1 V384.1 M134.40,649.3 V644.3 M185.80,379.1 V384.1 M185.80,649.3 V644.3 M237.20,379.1 V384.1 M237.20,649.3 V644.3 M288.60,379.1 V384.1 M288.60,649.3 V644.3 M340.00,379.1 V384.1 M340.00,649.3 V644.3 M391.40,379.1 V384.1 M391.40,649.3 V644.3 M442.80,379.1 V384.1 M442.80,649.3 V644.3 M93.28,379.1 V381.8 M93.28,649.3 V646.5999999999999 M103.56,379.1 V381.8 M103.56,649.3 V646.5999999999999 M113.84,379.1 V381.8 M113.84,649.3 V646.5999999999999 M124.12,379.1 V381.8 M124.12,649.3 V646.5999999999999 M144.68,379.1 V381.8 M144.68,649.3 V646.5999999999999 M154.96,379.1 V381.8 M154.96,649.3 V646.5999999999999 M165.24,379.1 V381.8 M165.24,649.3 V646.5999999999999 M175.52,379.1 V381.8 M175.52,649.3 V646.5999999999999 M196.08,379.1 V381.8 M196.08,649.3 V646.5999999999999 M206.36,379.1 V381.8 M206.36,649.3 V646.5999999999999 M216.64,379.1 V381.8 M216.64,649.3 V646.5999999999999 M226.92,379.1 V381.8 M226.92,649.3 V646.5999999999999 M247.48,379.1 V381.8 M247.48,649.3 V646.5999999999999 M257.76,379.1 V381.8 M257.76,649.3 V646.5999999999999 M268.04,379.1 V381.8 M268.04,649.3 V646.5999999999999 M278.32,379.1 V381.8 M278.32,649.3 V646.5999999999999 M298.88,379.1 V381.8 M298.88,649.3 V646.5999999999999 M309.16,379.1 V381.8 M309.16,649.3 V646.5999999999999 M319.44,379.1 V381.8 M319.44,649.3 V646.5999999999999 M329.72,379.1 V381.8 M329.72,649.3 V646.5999999999999 M350.28,379.1 V381.8 M350.28,649.3 V646.5999999999999 M360.56,379.1 V381.8 M360.56,649.3 V646.5999999999999 M370.84,379.1 V381.8 M370.84,649.3 V646.5999999999999 M381.12,379.1 V381.8 M381.12,649.3 V646.5999999999999 M401.68,379.1 V381.8 M401.68,649.3 V646.5999999999999 M411.96,379.1 V381.8 M411.96,649.3 V646.5999999999999 M422.24,379.1 V381.8 M422.24,649.3 V646.5999999999999 M432.52,379.1 V381.8 M432.52,649.3 V646.5999999999999 M453.08,379.1 V381.8 M453.08,649.3 V646.5999999999999 M463.36,379.1 V381.8 M463.36,649.3 V646.5999999999999 M473.64,379.1 V381.8 M473.64,649.3 V646.5999999999999 M483.92,379.1 V381.8 M483.92,649.3 V646.5999999999999" stroke="#555" stroke-width="1" fill="none"/>
<path d="M81.5,424.9 H86.5 M495.6,424.9 H490.6 M81.5,469.5 H86.5 M495.6,469.5 H490.6 M81.5,514.1 H86.5 M495.6,514.1 H490.6 M81.5,558.8 H86.5 M495.6,558.8 H490.6 M81.5,603.5 H86.5 M495.6,603.5 H490.6" stroke="#555" stroke-width="1" fill="none"/>
<text x="134.4" y="663" font-size="10" text-anchor="middle" fill="#222" >400</text>
<text x="237.2" y="663" font-size="10" text-anchor="middle" fill="#222" >500</text>
<text x="340.0" y="663" font-size="10" text-anchor="middle" fill="#222" >600</text>
<text x="442.8" y="663" font-size="10" text-anchor="middle" fill="#222" >700</text>
<text x="290" y="676" font-size="10" text-anchor="middle" fill="#222" >Emitted Photon Energy (eV)</text>
<text transform="translate(50.3,514) rotate(-90)" font-size="10" text-anchor="middle" fill="#222">Intensity (arb. units)</text>
<text x="97.8" y="402.9" font-size="18" fill="#222" >(c)</text>
<line x1="309.5" y1="381.5" x2="309.5" y2="410" stroke="#444" stroke-width="1" stroke-dasharray="2 2.6"/>
<line x1="339.5" y1="381.5" x2="339.5" y2="410" stroke="#444" stroke-width="1" stroke-dasharray="2 2.6"/>
<line x1="309.5" y1="437" x2="309.5" y2="642" stroke="#444" stroke-width="1" stroke-dasharray="2 2.6"/>
<line x1="339.5" y1="437" x2="339.5" y2="642" stroke="#444" stroke-width="1" stroke-dasharray="2 2.6"/>
<text x="293.4" y="421.5" font-size="10" fill="#111">Cr <tspan font-style="italic">L</tspan><tspan font-size="8" dy="2.2">α, β</tspan><tspan dy="-2.2"> should</tspan></text>
<text x="293.4" y="434.6" font-size="10" fill="#111" >be around here.</text>
<line x1="315.8" y1="439.7" x2="333.9" y2="439.7" stroke="#333" stroke-width="1"/><path d="M312.8,439.7 L316.8,438.09999999999997 L316.8,441.3 Z" fill="#111"/><path d="M336.9,439.7 L332.9,438.09999999999997 L332.9,441.3 Z" fill="#111"/>
<text x="246" y="400.9" font-size="10" fill="#111" >O <tspan font-style="italic">K</tspan><tspan font-size="7" dy="2" font-style="italic">α</tspan></text>
<text x="396.6" y="592.9" font-size="10" fill="#111">Mn <tspan font-style="italic">L</tspan><tspan font-size="8" dy="2.2">α, β</tspan></text>
<line x1="104.5" y1="421.0" x2="123" y2="421.0" stroke="#ee44cc" stroke-width="1.6"/>
<text x="127.6" y="424.3" font-size="10" fill="#111">664 eV (&gt; Mn <tspan font-style="italic">L</tspan><tspan font-size="7" dy="2">2</tspan><tspan dy="-2"> edge)</tspan></text>
<line x1="104.5" y1="433.9" x2="123" y2="433.9" stroke="#5a1fd6" stroke-width="1.6"/>
<text x="127.6" y="437.2" font-size="10" fill="#111">644 eV (Mn <tspan font-style="italic">L</tspan><tspan font-size="7" dy="2">3</tspan><tspan dy="-2"> peak)</tspan></text>
<line x1="104.5" y1="446.9" x2="123" y2="446.9" stroke="#c8c418" stroke-width="1.6"/>
<text x="127.6" y="450.2" font-size="10" fill="#111">634 eV (&lt; Mn <tspan font-style="italic">L</tspan><tspan font-size="7" dy="2">3</tspan><tspan dy="-2"> edge)</tspan></text>
<line x1="104.5" y1="459.9" x2="123" y2="459.9" stroke="#e0202a" stroke-width="1.6"/>
<text x="127.6" y="463.2" font-size="10" fill="#111">592 eV (&gt; Cr <tspan font-style="italic">L</tspan><tspan font-size="7" dy="2">2</tspan><tspan dy="-2"> edge)</tspan></text>
<line x1="104.5" y1="472.8" x2="123" y2="472.8" stroke="#111" stroke-width="1.6"/>
<text x="127.6" y="476.1" font-size="10" fill="#111">579.2 eV (Cr <tspan font-style="italic">L</tspan><tspan font-size="7" dy="2">3</tspan><tspan dy="-2"> peak)</tspan></text>
<line x1="104.5" y1="485.8" x2="123" y2="485.8" stroke="#18c07a" stroke-width="1.6"/>
<text x="127.6" y="489.1" font-size="10" fill="#111">575 eV (&lt; Cr <tspan font-style="italic">L</tspan><tspan font-size="7" dy="2">3</tspan><tspan dy="-2"> edge)</tspan></text>
<g fill="none" stroke-width="1.4" stroke-linejoin="round">
<path d="M81.50,647.70 L125.00,647.50 L130.00,647.10 L135.20,644.50 L142.10,646.20 L149.00,642.80 L156.00,641.90 L162.90,641.90 L169.80,639.30 L176.70,637.60 L183.60,635.80 L190.60,633.30 L197.50,628.90 L200.00,628.00 L205.20,627.10 L212.10,619.30 L219.00,614.10 L226.00,613.30 L232.90,602.00 L239.80,598.50 L247.60,589.00 L253.60,586.40 L261.40,581.20 L268.30,588.20 L275.30,581.20 L282.20,583.00 L290.00,581.20 L296.80,581.50 L302.20,583.10 L309.90,591.50 L316.80,597.70 L323.80,595.40 L330.70,596.90 L337.60,598.50 L344.50,597.70 L351.50,602.30 L360.00,596.90 L367.70,597.70 L373.80,599.20 L380.80,602.30 L386.20,600.80 L393.80,596.90 L401.50,601.50 L408.50,609.20 L412.30,609.70 L416.90,613.80 L422.30,621.80 L428.30,618.40 L435.40,625.90 L443.50,631.90 L450.60,636.00 L456.60,638.00 L463.70,639.00 L469.70,642.00 L477.80,644.00 L485.90,645.00 L494.00,646.00" stroke="#5a12d4"/>
<path d="M81.50,647.50 L100.00,647.00 L120.00,646.50 L130.00,645.40 L142.10,644.50 L149.00,641.00 L156.00,637.60 L164.60,632.40 L171.50,628.90 L176.70,624.60 L181.90,622.00 L187.10,616.00 L192.30,611.60 L196.50,609.60 L200.00,603.70 L205.40,591.30 L208.30,590.10 L212.10,589.00 L215.40,585.40 L220.10,578.30 L224.80,570.10 L229.70,555.00 L234.40,544.60 L239.70,533.40 L246.80,529.20 L254.50,536.30 L261.60,519.80 L268.00,513.90 L274.50,522.20 L282.20,531.00 L285.00,529.80 L288.90,528.60 L291.80,536.80 L296.00,545.10 L300.70,549.80 L305.40,556.90 L310.10,564.00 L314.80,568.70 L318.40,573.40 L321.90,578.10 L325.50,585.00 L329.20,594.60 L335.30,599.20 L341.50,603.80 L347.60,611.50 L353.80,615.40 L359.90,616.90 L364.60,617.70 L370.80,622.30 L375.40,624.60 L383.10,626.20 L392.30,625.70 L398.50,627.70 L404.60,630.80 L412.30,633.80 L420.00,635.40 L429.30,638.00 L437.40,638.60 L443.50,639.40 L450.60,641.00 L457.60,642.60 L463.70,643.00 L469.70,644.00 L477.80,645.00 L485.90,645.00 L494.00,646.00" stroke="#e840c8"/>
<path d="M81.50,647.00 L100.00,646.50 L115.00,646.00 L125.00,645.00 L130.00,641.90 L136.90,640.20 L142.10,642.80 L147.30,638.40 L152.50,636.70 L157.70,634.10 L164.60,629.80 L169.80,628.90 L174.10,623.70 L179.30,617.70 L185.40,611.60 L188.30,609.60 L191.80,605.50 L195.30,597.20 L200.00,584.20 L204.80,576.00 L207.10,574.20 L210.70,573.60 L214.20,571.90 L218.90,568.30 L221.90,561.80 L224.80,551.20 L227.40,544.60 L232.70,542.20 L236.20,535.10 L240.30,526.90 L245.60,522.20 L253.90,516.90 L256.80,511.60 L261.60,502.70 L264.50,507.40 L268.00,513.30 L274.50,513.70 L282.20,513.00 L285.00,516.30 L288.90,521.50 L292.40,528.60 L296.00,536.30 L300.70,539.20 L304.20,542.70 L307.80,549.80 L310.10,555.10 L313.70,559.20 L318.40,565.10 L323.10,572.20 L327.70,581.00 L332.20,593.10 L338.40,596.20 L340.00,598.50 L344.60,606.90 L350.80,614.60 L355.40,618.50 L360.00,624.60 L364.60,630.66 L370.80,633.52 L376.90,636.61 L383.10,639.62 L389.20,641.08 L395.40,642.40 L401.50,643.62 L407.70,644.63 L413.80,644.53 L420.00,645.14 L427.00,645.69 L434.00,644.13 L441.00,645.69 L448.00,645.77 L455.00,645.40 L462.00,645.41 L469.00,645.26 L476.00,646.10 L483.00,647.14 L490.00,646.10 L495.00,646.73" stroke="#111"/>
<path d="M81.50,646.50 L95.00,646.00 L105.00,645.50 L114.00,644.50 L120.40,640.80 L128.40,640.80 L133.00,639.00 L136.90,637.60 L143.80,636.40 L150.80,633.30 L157.70,629.80 L164.60,622.00 L171.50,616.80 L176.70,610.80 L180.20,603.00 L184.70,593.70 L191.20,587.80 L195.30,579.50 L198.90,571.30 L202.40,560.70 L205.40,550.00 L208.30,539.40 L211.30,530.00 L217.70,515.00 L222.50,503.50 L225.40,493.90 L229.70,480.00 L234.40,462.50 L238.00,451.90 L240.30,444.20 L243.90,438.90 L247.40,433.00 L253.90,432.10 L256.80,425.90 L261.00,417.70 L264.50,413.00 L268.40,408.50 L272.20,411.80 L275.70,414.70 L278.70,422.40 L281.60,430.70 L283.00,435.30 L287.70,444.20 L291.80,451.80 L296.00,459.50 L298.30,467.70 L301.90,480.70 L305.40,492.50 L309.50,505.00 L313.10,514.40 L317.20,525.00 L320.70,536.80 L324.30,549.80 L328.40,562.80 L332.50,575.80 L334.90,585.00 L338.40,594.60 L340.00,598.50 L344.60,606.90 L350.80,614.60 L355.40,618.50 L360.00,624.60 L364.60,629.26 L370.80,633.80 L376.90,636.40 L383.10,637.96 L389.20,640.10 L395.40,643.16 L401.50,642.24 L407.70,643.46 L413.80,645.50 L420.00,645.24 L427.00,644.94 L434.00,645.02 L441.00,645.73 L448.00,644.85 L455.00,644.88 L462.00,645.98 L469.00,646.14 L476.00,645.82 L483.00,646.83 L490.00,646.60 L495.00,647.76" stroke="#14bc78"/>
<path d="M81.50,646.50 L100.00,645.50 L120.00,643.50 L130.00,641.00 L136.90,639.50 L143.80,638.00 L150.80,635.50 L157.70,632.00 L164.60,626.00 L171.50,621.10 L180.20,614.20 L183.50,606.70 L189.40,599.60 L196.50,589.00 L203.60,577.20 L208.30,566.60 L211.80,558.30 L216.60,547.70 L221.30,538.30 L225.40,530.00 L228.30,521.00 L232.10,509.20 L234.40,501.50 L236.80,499.80 L243.30,494.50 L249.50,482.50 L254.50,471.30 L257.40,473.70 L261.00,476.40 L265.10,469.60 L268.60,464.30 L272.20,467.80 L275.70,471.90 L279.80,479.00 L283.00,484.20 L287.70,491.30 L291.80,496.00 L296.00,501.90 L298.30,507.00 L300.70,515.60 L304.20,526.20 L307.80,535.70 L311.30,543.90 L315.40,552.20 L319.60,560.40 L324.30,571.00 L329.00,580.50 L333.00,588.00 L336.10,593.10 L340.00,598.50 L343.80,611.50 L349.20,616.20 L355.40,619.00 L360.00,624.60 L364.60,630.73 L370.80,634.51 L376.90,636.82 L383.10,638.42 L389.20,639.95 L395.40,643.19 L401.50,643.33 L407.70,643.21 L413.80,645.42 L420.00,645.97 L427.00,644.77 L434.00,645.63 L441.00,644.56 L448.00,645.18 L455.00,646.24 L462.00,645.22 L469.00,645.84 L476.00,645.03 L483.00,646.83 L490.00,646.50 L495.00,646.30" stroke="#cccc1c"/>
<path d="M81.50,646.50 L95.00,646.00 L102.00,645.00 L105.00,644.20 L110.00,644.20 L115.00,645.00 L122.00,644.50 L130.00,641.00 L136.90,639.30 L143.80,638.40 L150.80,635.80 L157.70,632.40 L164.60,627.20 L169.80,617.70 L174.10,617.70 L177.60,614.20 L180.00,607.80 L185.90,598.40 L191.80,591.30 L197.70,583.10 L203.60,576.00 L207.10,565.40 L210.70,554.80 L214.20,546.50 L217.70,539.40 L221.90,530.00 L225.00,523.30 L229.70,513.90 L234.40,500.40 L238.00,488.00 L240.30,473.10 L243.90,472.20 L247.40,471.30 L250.40,462.50 L254.50,453.10 L260.40,451.50 L265.10,451.50 L268.40,452.80 L271.60,457.80 L274.50,462.50 L278.10,467.20 L281.60,470.80 L283.00,472.50 L288.30,477.20 L291.80,484.20 L296.00,492.50 L298.90,500.80 L301.30,510.00 L303.60,515.60 L306.60,521.50 L310.70,528.60 L313.70,538.00 L317.20,549.80 L320.70,561.60 L325.50,573.40 L330.20,581.70 L335.00,592.00 L340.00,598.50 L344.60,606.90 L350.80,614.60 L355.40,618.50 L360.00,624.60 L364.60,629.50 L370.80,634.69 L376.90,635.58 L383.10,638.26 L389.20,640.50 L395.40,641.76 L401.50,643.44 L407.70,643.43 L413.80,645.39 L420.00,645.72 L427.00,644.21 L434.00,645.08 L441.00,644.61 L448.00,644.82 L455.00,645.43 L462.00,645.31 L469.00,645.74 L476.00,646.66 L483.00,645.72 L490.00,645.88 L495.00,647.14" stroke="#d0102a"/>
</g>
<rect x="359.8" y="388.6" width="119.69999999999999" height="58.69999999999999" fill="#fff" stroke="#555" stroke-width="1.1"/>
<path d="M381.32,388.6 V391.6 M381.32,447.3 V444.3 M400.63,388.6 V391.6 M400.63,447.3 V444.3 M419.95,388.6 V391.6 M419.95,447.3 V444.3 M439.26,388.6 V391.6 M439.26,447.3 V444.3 M458.58,388.6 V391.6 M458.58,447.3 V444.3 M477.89,388.6 V391.6 M477.89,447.3 V444.3 M365.87,388.6 V390.40000000000003 M365.87,447.3 V445.5 M369.73,388.6 V390.40000000000003 M369.73,447.3 V445.5 M373.59,388.6 V390.40000000000003 M373.59,447.3 V445.5 M377.46,388.6 V390.40000000000003 M377.46,447.3 V445.5 M385.18,388.6 V390.40000000000003 M385.18,447.3 V445.5 M389.05,388.6 V390.40000000000003 M389.05,447.3 V445.5 M392.91,388.6 V390.40000000000003 M392.91,447.3 V445.5 M396.77,388.6 V390.40000000000003 M396.77,447.3 V445.5 M404.50,388.6 V390.40000000000003 M404.50,447.3 V445.5 M408.36,388.6 V390.40000000000003 M408.36,447.3 V445.5 M412.22,388.6 V390.40000000000003 M412.22,447.3 V445.5 M416.09,388.6 V390.40000000000003 M416.09,447.3 V445.5 M423.81,388.6 V390.40000000000003 M423.81,447.3 V445.5 M427.68,388.6 V390.40000000000003 M427.68,447.3 V445.5 M431.54,388.6 V390.40000000000003 M431.54,447.3 V445.5 M435.40,388.6 V390.40000000000003 M435.40,447.3 V445.5 M443.13,388.6 V390.40000000000003 M443.13,447.3 V445.5 M446.99,388.6 V390.40000000000003 M446.99,447.3 V445.5 M450.85,388.6 V390.40000000000003 M450.85,447.3 V445.5 M454.72,388.6 V390.40000000000003 M454.72,447.3 V445.5 M462.44,388.6 V390.40000000000003 M462.44,447.3 V445.5 M466.31,388.6 V390.40000000000003 M466.31,447.3 V445.5 M470.17,388.6 V390.40000000000003 M470.17,447.3 V445.5 M474.03,388.6 V390.40000000000003 M474.03,447.3 V445.5" stroke="#555" stroke-width="1" fill="none"/>
<text x="362.0" y="458.8" font-size="10" text-anchor="middle" fill="#222" >570</text>
<text x="400.6" y="458.8" font-size="10" text-anchor="middle" fill="#222" >580</text>
<text x="439.3" y="458.8" font-size="10" text-anchor="middle" fill="#222" >590</text>
<text x="477.9" y="458.8" font-size="10" text-anchor="middle" fill="#222" >600</text>
<text x="418.6" y="468.8" font-size="10" text-anchor="middle" fill="#222" >Incident Photon Energy (eV)</text>
<text x="412" y="405.2" font-size="10" fill="#111">Cr <tspan font-style="italic">L</tspan>-edge TEY</text>
<path d="M360.50,443.00 L361.00,443.08 L361.50,443.15 L362.00,443.23 L362.50,443.30 L363.00,443.37 L363.50,443.43 L364.00,443.49 L364.50,443.55 L365.00,443.60 L365.50,443.65 L366.00,443.70 L366.50,443.74 L367.00,443.78 L367.50,443.82 L368.00,443.86 L368.50,443.90 L369.00,443.93 L369.50,443.97 L370.00,444.00 L370.50,444.03 L371.00,444.07 L371.50,444.10 L372.00,444.13 L372.50,444.17 L373.00,444.20 L373.50,444.23 L374.00,444.26 L374.50,444.29 L375.00,444.32 L375.50,444.34 L376.00,444.36 L376.50,444.38 L377.00,444.39 L377.50,444.40 L378.00,444.40 L378.50,444.40 L379.00,444.39 L379.50,444.37 L380.00,444.35 L380.50,444.32 L381.00,444.29 L381.50,444.25 L382.00,444.20 L382.50,444.08 L383.00,443.84 L383.50,443.49 L384.00,443.07 L384.50,442.60 L385.00,441.91 L385.50,440.95 L386.00,439.75 L386.50,437.92 L387.00,434.94 L387.50,433.00 L388.00,432.58 L388.50,432.32 L389.00,431.91 L389.50,431.35 L390.00,430.59 L390.50,429.25 L391.00,427.10 L391.50,424.79 L392.00,422.97 L392.50,422.08 L393.00,424.12 L393.50,426.49 L394.00,426.36 L394.50,424.25 L395.00,421.50 L395.50,418.36 L396.00,414.41 L396.50,409.50 L397.00,403.02 L397.50,402.37 L398.00,403.50 L398.50,405.46 L399.00,408.12 L399.50,410.38 L400.00,412.05 L400.50,413.53 L401.00,415.01 L401.50,416.72 L402.00,418.89 L402.50,421.49 L403.00,424.14 L403.50,426.42 L404.00,428.51 L404.50,430.50 L405.00,432.26 L405.50,433.67 L406.00,434.75 L406.50,435.72 L407.00,436.59 L407.50,437.37 L408.00,438.04 L408.50,438.63 L409.00,439.11 L409.50,439.52 L410.00,439.88 L410.50,440.21 L411.00,440.50 L411.50,440.76 L412.00,441.01 L412.50,441.24 L413.00,441.46 L413.50,441.68 L414.00,441.92 L414.50,442.15 L415.00,442.37 L415.50,442.54 L416.00,442.66 L416.50,442.70 L417.00,442.63 L417.50,442.44 L418.00,442.15 L418.50,441.78 L419.00,441.37 L419.50,440.88 L420.00,440.11 L420.50,439.13 L421.00,438.03 L421.50,436.90 L422.00,435.67 L422.50,434.28 L423.00,432.85 L423.50,431.50 L424.00,430.25 L424.50,429.05 L425.00,427.86 L425.50,426.65 L426.00,425.13 L426.50,423.59 L427.00,422.51 L427.50,422.33 L428.00,422.66 L428.50,423.18 L429.00,423.76 L429.50,424.66 L430.00,425.52 L430.50,425.80 L431.00,425.80 L431.50,425.80 L432.00,425.80 L432.50,425.80 L433.00,425.80 L433.50,425.80 L434.00,425.80 L434.50,425.80 L435.00,426.05 L435.50,426.89 L436.00,428.03 L436.50,429.36 L437.00,431.26 L437.50,433.18 L438.00,434.62 L438.50,435.91 L439.00,437.05 L439.50,437.95 L440.00,438.64 L440.50,439.24 L441.00,439.76 L441.50,440.21 L442.00,440.59 L442.50,440.93 L443.00,441.23 L443.50,441.49 L444.00,441.73 L444.50,441.95 L445.00,442.15 L445.50,442.34 L446.00,442.52 L446.50,442.70 L447.00,442.86 L447.50,443.01 L448.00,443.12 L448.50,443.20 L449.00,443.25 L449.50,443.30 L450.00,443.34 L450.50,443.38 L451.00,443.42 L451.50,443.45 L452.00,443.48 L452.50,443.50 L453.00,443.53 L453.50,443.55 L454.00,443.57 L454.50,443.58 L455.00,443.60 L455.50,443.62 L456.00,443.63 L456.50,443.65 L457.00,443.66 L457.50,443.68 L458.00,443.69 L458.50,443.70 L459.00,443.72 L459.50,443.73 L460.00,443.74 L460.50,443.75 L461.00,443.76 L461.50,443.77 L462.00,443.78 L462.50,443.78 L463.00,443.79 L463.50,443.79 L464.00,443.80 L464.50,443.80 L465.00,443.80 L465.50,443.80 L466.00,443.80 L466.50,443.79 L467.00,443.79 L467.50,443.79 L468.00,443.78 L468.50,443.77 L469.00,443.76 L469.50,443.75 L470.00,443.74 L470.50,443.73 L471.00,443.72 L471.50,443.71 L472.00,443.69 L472.50,443.67 L473.00,443.66 L473.50,443.64 L474.00,443.62 L474.50,443.60 L475.00,443.58 L475.50,443.56 L476.00,443.53 L476.50,443.51 L477.00,443.48 L477.50,443.46 L478.00,443.43 L478.50,443.40" stroke="#e3101e" stroke-width="1.6" fill="none"/>
<rect x="359.8" y="481.1" width="119.69999999999999" height="57.0" fill="#fff" stroke="#555" stroke-width="1.1"/>
<path d="M368.32,481.1 V484.1 M368.32,538.1 V535.1 M386.00,481.1 V484.1 M386.00,538.1 V535.1 M403.68,481.1 V484.1 M403.68,538.1 V535.1 M421.35,481.1 V484.1 M421.35,538.1 V535.1 M439.02,481.1 V484.1 M439.02,538.1 V535.1 M456.70,481.1 V484.1 M456.70,538.1 V535.1 M474.38,481.1 V484.1 M474.38,538.1 V535.1 M361.25,481.1 V482.90000000000003 M361.25,538.1 V536.3000000000001 M364.79,481.1 V482.90000000000003 M364.79,538.1 V536.3000000000001 M371.86,481.1 V482.90000000000003 M371.86,538.1 V536.3000000000001 M375.39,481.1 V482.90000000000003 M375.39,538.1 V536.3000000000001 M378.93,481.1 V482.90000000000003 M378.93,538.1 V536.3000000000001 M382.46,481.1 V482.90000000000003 M382.46,538.1 V536.3000000000001 M389.54,481.1 V482.90000000000003 M389.54,538.1 V536.3000000000001 M393.07,481.1 V482.90000000000003 M393.07,538.1 V536.3000000000001 M396.61,481.1 V482.90000000000003 M396.61,538.1 V536.3000000000001 M400.14,481.1 V482.90000000000003 M400.14,538.1 V536.3000000000001 M407.21,481.1 V482.90000000000003 M407.21,538.1 V536.3000000000001 M410.75,481.1 V482.90000000000003 M410.75,538.1 V536.3000000000001 M414.28,481.1 V482.90000000000003 M414.28,538.1 V536.3000000000001 M417.81,481.1 V482.90000000000003 M417.81,538.1 V536.3000000000001 M424.88,481.1 V482.90000000000003 M424.88,538.1 V536.3000000000001 M428.42,481.1 V482.90000000000003 M428.42,538.1 V536.3000000000001 M431.95,481.1 V482.90000000000003 M431.95,538.1 V536.3000000000001 M435.49,481.1 V482.90000000000003 M435.49,538.1 V536.3000000000001 M442.56,481.1 V482.90000000000003 M442.56,538.1 V536.3000000000001 M446.10,481.1 V482.90000000000003 M446.10,538.1 V536.3000000000001 M449.63,481.1 V482.90000000000003 M449.63,538.1 V536.3000000000001 M453.17,481.1 V482.90000000000003 M453.17,538.1 V536.3000000000001 M460.24,481.1 V482.90000000000003 M460.24,538.1 V536.3000000000001 M463.77,481.1 V482.90000000000003 M463.77,538.1 V536.3000000000001 M467.31,481.1 V482.90000000000003 M467.31,538.1 V536.3000000000001 M470.84,481.1 V482.90000000000003 M470.84,538.1 V536.3000000000001 M477.91,481.1 V482.90000000000003 M477.91,538.1 V536.3000000000001" stroke="#555" stroke-width="1" fill="none"/>
<text x="386.0" y="549.8" font-size="10" text-anchor="middle" fill="#222" >640</text>
<text x="421.4" y="549.8" font-size="10" text-anchor="middle" fill="#222" >650</text>
<text x="456.7" y="549.8" font-size="10" text-anchor="middle" fill="#222" >660</text>
<text x="418.8" y="559.5" font-size="10" text-anchor="middle" fill="#222" >Incident Photon Energy (eV)</text>
<text x="407.7" y="498.8" font-size="10" fill="#111">Mn <tspan font-style="italic">L</tspan>-edge TEY</text>
<path d="M361.00,532.70 L361.50,532.72 L362.00,532.74 L362.50,532.76 L363.00,532.77 L363.50,532.79 L364.00,532.80 L364.50,532.82 L365.00,532.83 L365.50,532.84 L366.00,532.85 L366.50,532.86 L367.00,532.86 L367.50,532.87 L368.00,532.88 L368.50,532.88 L369.00,532.88 L369.50,532.89 L370.00,532.89 L370.50,532.89 L371.00,532.90 L371.50,532.90 L372.00,532.90 L372.50,532.90 L373.00,532.90 L373.50,532.90 L374.00,532.90 L374.50,532.90 L375.00,532.90 L375.50,532.90 L376.00,532.89 L376.50,532.88 L377.00,532.86 L377.50,532.85 L378.00,532.82 L378.50,532.80 L379.00,532.77 L379.50,532.73 L380.00,532.70 L380.50,532.65 L381.00,532.58 L381.50,532.47 L382.00,532.35 L382.50,532.20 L383.00,532.02 L383.50,531.80 L384.00,531.44 L384.50,530.94 L385.00,530.33 L385.50,529.66 L386.00,528.77 L386.50,527.69 L387.00,526.50 L387.50,525.24 L388.00,523.84 L388.50,522.27 L389.00,520.60 L389.50,518.74 L390.00,515.68 L390.50,508.01 L391.00,507.65 L391.50,510.90 L392.00,514.28 L392.50,515.77 L393.00,514.99 L393.50,513.95 L394.00,513.36 L394.50,512.91 L395.00,512.45 L395.50,511.84 L396.00,511.12 L396.50,510.18 L397.00,508.87 L397.50,506.22 L398.00,503.12 L398.50,500.34 L399.00,497.69 L399.50,496.83 L400.00,497.72 L400.50,499.33 L401.00,501.00 L401.50,502.54 L402.00,504.20 L402.50,505.97 L403.00,507.89 L403.50,510.07 L404.00,512.20 L404.50,513.96 L405.00,515.52 L405.50,516.94 L406.00,518.21 L406.50,519.31 L407.00,520.29 L407.50,521.18 L408.00,521.99 L408.50,522.70 L409.00,523.32 L409.50,523.86 L410.00,524.36 L410.50,524.82 L411.00,525.24 L411.50,525.62 L412.00,525.97 L412.50,526.29 L413.00,526.59 L413.50,526.88 L414.00,527.14 L414.50,527.38 L415.00,527.60 L415.50,527.80 L416.00,527.99 L416.50,528.19 L417.00,528.39 L417.50,528.58 L418.00,528.74 L418.50,528.87 L419.00,528.96 L419.50,529.00 L420.00,528.97 L420.50,528.86 L421.00,528.70 L421.50,528.51 L422.00,528.30 L422.50,528.08 L423.00,527.81 L423.50,527.49 L424.00,527.12 L424.50,526.69 L425.00,526.20 L425.50,525.47 L426.00,524.43 L426.50,523.20 L427.00,521.92 L427.50,520.71 L428.00,519.70 L428.50,518.84 L429.00,518.00 L429.50,517.19 L430.00,516.43 L430.50,515.72 L431.00,515.07 L431.50,514.49 L432.00,514.00 L432.50,513.55 L433.00,513.12 L433.50,512.72 L434.00,512.39 L434.50,512.14 L435.00,512.00 L435.50,511.93 L436.00,511.87 L436.50,511.83 L437.00,511.80 L437.50,511.83 L438.00,512.17 L438.50,512.80 L439.00,513.61 L439.50,514.51 L440.00,515.40 L440.50,516.41 L441.00,517.67 L441.50,519.04 L442.00,520.40 L442.50,521.63 L443.00,522.60 L443.50,523.37 L444.00,524.09 L444.50,524.74 L445.00,525.31 L445.50,525.80 L446.00,526.20 L446.50,526.54 L447.00,526.85 L447.50,527.14 L448.00,527.41 L448.50,527.64 L449.00,527.83 L449.50,527.99 L450.00,528.10 L450.50,528.19 L451.00,528.28 L451.50,528.36 L452.00,528.44 L452.50,528.51 L453.00,528.58 L453.50,528.65 L454.00,528.71 L454.50,528.77 L455.00,528.83 L455.50,528.88 L456.00,528.92 L456.50,528.96 L457.00,529.00 L457.50,529.03 L458.00,529.05 L458.50,529.07 L459.00,529.09 L459.50,529.10 L460.00,529.10 L460.50,529.10 L461.00,529.09 L461.50,529.08 L462.00,529.07 L462.50,529.06 L463.00,529.04 L463.50,529.02 L464.00,529.00 L464.50,528.97 L465.00,528.95 L465.50,528.92 L466.00,528.89 L466.50,528.87 L467.00,528.84 L467.50,528.82 L468.00,528.79 L468.50,528.76 L469.00,528.74 L469.50,528.72 L470.00,528.70 L470.50,528.68 L471.00,528.66 L471.50,528.64 L472.00,528.63 L472.50,528.61 L473.00,528.59 L473.50,528.57 L474.00,528.55 L474.50,528.54 L475.00,528.52 L475.50,528.50 L476.00,528.48 L476.50,528.47 L477.00,528.45 L477.50,528.43 L478.00,528.42 L478.50,528.40" stroke="#e3101e" stroke-width="1.6" fill="none"/>
<rect x="396.4" y="389.8" width="2" height="2.5" fill="#111"/><path d="M394.9,391.8 L399.9,391.8 L397.4,399.8 Z" fill="#111"/>
<rect x="380.4" y="427.1" width="1.6" height="5.399999999999977" fill="#18c060"/><path d="M378.9,432 L383.5,432 L381.2,440 Z" fill="#18c060"/>
<rect x="446.3" y="423.5" width="1.6" height="5.5" fill="#e8141e"/><path d="M444.90000000000003,428.5 L449.3,428.5 L447.1,435.8 Z" fill="#e8141e"/>
<rect x="398.8" y="484" width="2" height="2.599999999999966" fill="#5a5af0"/><path d="M397.7,486.09999999999997 L401.90000000000003,486.09999999999997 L399.8,494.4 Z" fill="#5a5af0"/>
<rect x="364.3" y="517.6" width="1.6" height="5.5" fill="#b8b818"/><path d="M362.8,522.6 L367.40000000000003,522.6 L365.1,530.6 Z" fill="#b8b818"/>
<rect x="470.09999999999997" y="513.2" width="1.6" height="5.5" fill="#ee22cc"/><path d="M468.59999999999997,518.2 L473.2,518.2 L470.9,526.2 Z" fill="#ee22cc"/>
</svg></body></html>
